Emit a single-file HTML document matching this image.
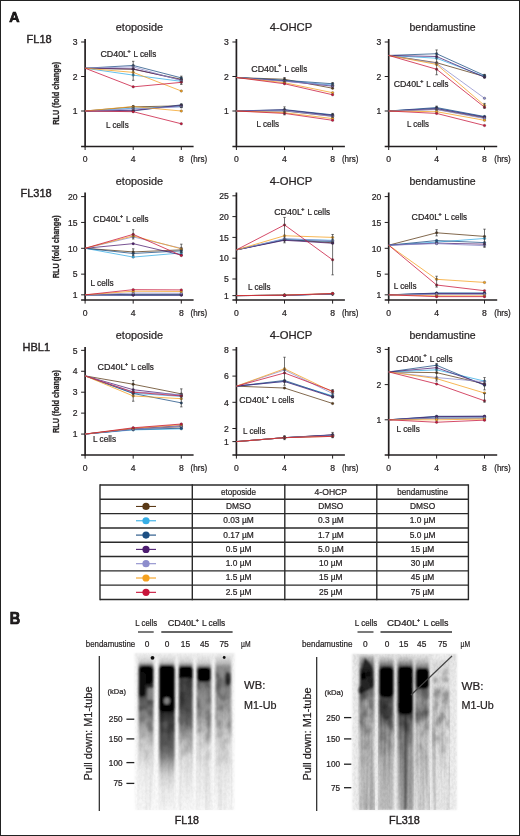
<!DOCTYPE html>
<html><head><meta charset="utf-8"><style>
html,body{margin:0;padding:0;background:#fff;}
body{width:520px;height:836px;overflow:hidden;}
svg{display:block;}
text{font-family:"Liberation Sans", sans-serif;fill:#231f20;stroke:#231f20;stroke-width:0.22px;}
</style></head><body>
<svg width="520" height="836" viewBox="0 0 520 836">
<rect x="0" y="0" width="520" height="836" fill="#fff"/>
<text x="26.60" y="43.30" font-size="11" style="stroke-width:0.4px">FL18</text>
<text transform="translate(58.6 93.2) rotate(-90)" font-size="9" text-anchor="middle" textLength="63" lengthAdjust="spacingAndGlyphs" font-weight="bold" fill="#2a2a2a" style="stroke:#2a2a2a;stroke-width:0.3px">RLU (fold change)</text>
<text x="115.80" y="31.40" font-size="11" textLength="47.3" lengthAdjust="spacingAndGlyphs">etoposide</text>
<line x1="85.10" y1="39.00" x2="85.10" y2="147.20" stroke="#231f20" stroke-width="1.7"/>
<line x1="81.10" y1="146.40" x2="193.60" y2="146.40" stroke="#231f20" stroke-width="1.5"/>
<line x1="81.10" y1="111.00" x2="85.10" y2="111.00" stroke="#231f20" stroke-width="1"/>
<text x="77.60" y="114.20" font-size="8.6" text-anchor="end">1</text>
<line x1="81.10" y1="76.50" x2="85.10" y2="76.50" stroke="#231f20" stroke-width="1"/>
<text x="77.60" y="79.70" font-size="8.6" text-anchor="end">2</text>
<line x1="81.10" y1="42.00" x2="85.10" y2="42.00" stroke="#231f20" stroke-width="1"/>
<text x="77.60" y="45.20" font-size="8.6" text-anchor="end">3</text>
<line x1="85.10" y1="146.40" x2="85.10" y2="150.00" stroke="#231f20" stroke-width="1"/>
<text x="85.10" y="162.40" font-size="8.6" text-anchor="middle">0</text>
<line x1="133.20" y1="146.40" x2="133.20" y2="150.00" stroke="#231f20" stroke-width="1"/>
<text x="133.20" y="162.40" font-size="8.6" text-anchor="middle">4</text>
<line x1="181.30" y1="146.40" x2="181.30" y2="150.00" stroke="#231f20" stroke-width="1"/>
<text x="181.30" y="162.40" font-size="8.6" text-anchor="middle">8</text>
<text x="190.60" y="162.20" font-size="8.4" textLength="16.6" lengthAdjust="spacingAndGlyphs">(hrs)</text>
<polyline points="85.10,68.22 133.20,69.25 181.30,79.26" fill="none" stroke="#5b3a17" stroke-width="0.85" stroke-opacity="0.9"/>
<polyline points="85.10,68.22 133.20,75.12 181.30,81.33" fill="none" stroke="#36aee6" stroke-width="0.85" stroke-opacity="0.9"/>
<polyline points="85.10,68.22 133.20,65.46 181.30,77.88" fill="none" stroke="#1d4f83" stroke-width="0.85" stroke-opacity="0.9"/>
<polyline points="85.10,68.22 133.20,68.91 181.30,79.95" fill="none" stroke="#4d1d70" stroke-width="0.85" stroke-opacity="0.9"/>
<polyline points="85.10,68.22 133.20,66.84 181.30,80.64" fill="none" stroke="#8d8dcc" stroke-width="0.85" stroke-opacity="0.9"/>
<polyline points="85.10,68.22 133.20,72.36 181.30,90.99" fill="none" stroke="#f5a11f" stroke-width="0.85" stroke-opacity="0.9"/>
<polyline points="85.10,68.22 133.20,86.85 181.30,82.36" fill="none" stroke="#c8143a" stroke-width="0.85" stroke-opacity="0.9"/>
<circle cx="133.20" cy="69.25" r="1.25" fill="#5b3a17" stroke="#333" stroke-width="0.3"/>
<circle cx="181.30" cy="79.26" r="1.25" fill="#5b3a17" stroke="#333" stroke-width="0.3"/>
<circle cx="133.20" cy="75.12" r="1.25" fill="#36aee6" stroke="#333" stroke-width="0.3"/>
<circle cx="181.30" cy="81.33" r="1.25" fill="#36aee6" stroke="#333" stroke-width="0.3"/>
<circle cx="133.20" cy="65.46" r="1.25" fill="#1d4f83" stroke="#333" stroke-width="0.3"/>
<circle cx="181.30" cy="77.88" r="1.25" fill="#1d4f83" stroke="#333" stroke-width="0.3"/>
<circle cx="133.20" cy="68.91" r="1.25" fill="#4d1d70" stroke="#333" stroke-width="0.3"/>
<circle cx="181.30" cy="79.95" r="1.25" fill="#4d1d70" stroke="#333" stroke-width="0.3"/>
<circle cx="133.20" cy="66.84" r="1.25" fill="#8d8dcc" stroke="#333" stroke-width="0.3"/>
<circle cx="181.30" cy="80.64" r="1.25" fill="#8d8dcc" stroke="#333" stroke-width="0.3"/>
<circle cx="133.20" cy="72.36" r="1.25" fill="#f5a11f" stroke="#333" stroke-width="0.3"/>
<circle cx="181.30" cy="90.99" r="1.25" fill="#f5a11f" stroke="#333" stroke-width="0.3"/>
<circle cx="133.20" cy="86.85" r="1.25" fill="#c8143a" stroke="#333" stroke-width="0.3"/>
<circle cx="181.30" cy="82.36" r="1.25" fill="#c8143a" stroke="#333" stroke-width="0.3"/>
<polyline points="85.10,111.00 133.20,106.86 181.30,105.83" fill="none" stroke="#5b3a17" stroke-width="0.85" stroke-opacity="0.9"/>
<polyline points="85.10,111.00 133.20,108.24 181.30,106.52" fill="none" stroke="#36aee6" stroke-width="0.85" stroke-opacity="0.9"/>
<polyline points="85.10,111.00 133.20,111.00 181.30,104.79" fill="none" stroke="#1d4f83" stroke-width="0.85" stroke-opacity="0.9"/>
<polyline points="85.10,111.00 133.20,110.31 181.30,105.48" fill="none" stroke="#4d1d70" stroke-width="0.85" stroke-opacity="0.9"/>
<polyline points="85.10,111.00 133.20,108.93 181.30,106.86" fill="none" stroke="#8d8dcc" stroke-width="0.85" stroke-opacity="0.9"/>
<polyline points="85.10,111.00 133.20,106.52 181.30,111.00" fill="none" stroke="#f5a11f" stroke-width="0.85" stroke-opacity="0.9"/>
<polyline points="85.10,111.00 133.20,111.69 181.30,123.77" fill="none" stroke="#c8143a" stroke-width="0.85" stroke-opacity="0.9"/>
<circle cx="133.20" cy="106.86" r="1.25" fill="#5b3a17" stroke="#333" stroke-width="0.3"/>
<circle cx="181.30" cy="105.83" r="1.25" fill="#5b3a17" stroke="#333" stroke-width="0.3"/>
<circle cx="133.20" cy="108.24" r="1.25" fill="#36aee6" stroke="#333" stroke-width="0.3"/>
<circle cx="181.30" cy="106.52" r="1.25" fill="#36aee6" stroke="#333" stroke-width="0.3"/>
<circle cx="133.20" cy="111.00" r="1.25" fill="#1d4f83" stroke="#333" stroke-width="0.3"/>
<circle cx="181.30" cy="104.79" r="1.25" fill="#1d4f83" stroke="#333" stroke-width="0.3"/>
<circle cx="133.20" cy="110.31" r="1.25" fill="#4d1d70" stroke="#333" stroke-width="0.3"/>
<circle cx="181.30" cy="105.48" r="1.25" fill="#4d1d70" stroke="#333" stroke-width="0.3"/>
<circle cx="133.20" cy="108.93" r="1.25" fill="#8d8dcc" stroke="#333" stroke-width="0.3"/>
<circle cx="181.30" cy="106.86" r="1.25" fill="#8d8dcc" stroke="#333" stroke-width="0.3"/>
<circle cx="133.20" cy="106.52" r="1.25" fill="#f5a11f" stroke="#333" stroke-width="0.3"/>
<circle cx="181.30" cy="111.00" r="1.25" fill="#f5a11f" stroke="#333" stroke-width="0.3"/>
<circle cx="133.20" cy="111.69" r="1.25" fill="#c8143a" stroke="#333" stroke-width="0.3"/>
<circle cx="181.30" cy="123.77" r="1.25" fill="#c8143a" stroke="#333" stroke-width="0.3"/>
<line x1="133.20" y1="61.32" x2="133.20" y2="80.30" stroke="#333" stroke-width="0.7"/>
<line x1="132.00" y1="61.32" x2="134.40" y2="61.32" stroke="#333" stroke-width="0.7"/>
<line x1="132.00" y1="80.30" x2="134.40" y2="80.30" stroke="#333" stroke-width="0.7"/>
<line x1="181.30" y1="76.16" x2="181.30" y2="84.44" stroke="#333" stroke-width="0.7"/>
<line x1="180.10" y1="76.16" x2="182.50" y2="76.16" stroke="#333" stroke-width="0.7"/>
<line x1="180.10" y1="84.44" x2="182.50" y2="84.44" stroke="#333" stroke-width="0.7"/>
<line x1="133.20" y1="105.83" x2="133.20" y2="110.31" stroke="#333" stroke-width="0.7"/>
<line x1="132.00" y1="105.83" x2="134.40" y2="105.83" stroke="#333" stroke-width="0.7"/>
<line x1="132.00" y1="110.31" x2="134.40" y2="110.31" stroke="#333" stroke-width="0.7"/>
<line x1="181.30" y1="104.10" x2="181.30" y2="107.55" stroke="#333" stroke-width="0.7"/>
<line x1="180.10" y1="104.10" x2="182.50" y2="104.10" stroke="#333" stroke-width="0.7"/>
<line x1="180.10" y1="107.55" x2="182.50" y2="107.55" stroke="#333" stroke-width="0.7"/>
<text x="100.40" y="57.20" font-size="8.5" textLength="27.68" lengthAdjust="spacingAndGlyphs">CD40L</text>
<text x="129.00" y="53.00" font-size="5.27" text-anchor="middle" font-weight="bold">+</text>
<text x="133.60" y="57.20" font-size="8.5" textLength="22.6" lengthAdjust="spacingAndGlyphs">L cells</text>
<text x="106.10" y="128.40" font-size="8.6" textLength="22.6" lengthAdjust="spacingAndGlyphs">L cells</text>
<text x="269.70" y="31.40" font-size="11" textLength="42.6" lengthAdjust="spacingAndGlyphs">4-OHCP</text>
<line x1="236.40" y1="39.00" x2="236.40" y2="147.20" stroke="#231f20" stroke-width="1.7"/>
<line x1="232.40" y1="146.40" x2="344.90" y2="146.40" stroke="#231f20" stroke-width="1.5"/>
<line x1="232.40" y1="111.00" x2="236.40" y2="111.00" stroke="#231f20" stroke-width="1"/>
<text x="228.90" y="114.20" font-size="8.6" text-anchor="end">1</text>
<line x1="232.40" y1="76.50" x2="236.40" y2="76.50" stroke="#231f20" stroke-width="1"/>
<text x="228.90" y="79.70" font-size="8.6" text-anchor="end">2</text>
<line x1="232.40" y1="42.00" x2="236.40" y2="42.00" stroke="#231f20" stroke-width="1"/>
<text x="228.90" y="45.20" font-size="8.6" text-anchor="end">3</text>
<line x1="236.40" y1="146.40" x2="236.40" y2="150.00" stroke="#231f20" stroke-width="1"/>
<text x="236.40" y="162.40" font-size="8.6" text-anchor="middle">0</text>
<line x1="284.50" y1="146.40" x2="284.50" y2="150.00" stroke="#231f20" stroke-width="1"/>
<text x="284.50" y="162.40" font-size="8.6" text-anchor="middle">4</text>
<line x1="332.60" y1="146.40" x2="332.60" y2="150.00" stroke="#231f20" stroke-width="1"/>
<text x="332.60" y="162.40" font-size="8.6" text-anchor="middle">8</text>
<text x="341.90" y="162.20" font-size="8.4" textLength="16.6" lengthAdjust="spacingAndGlyphs">(hrs)</text>
<polyline points="236.40,77.53 284.50,79.26 332.60,88.23" fill="none" stroke="#5b3a17" stroke-width="0.85" stroke-opacity="0.9"/>
<polyline points="236.40,77.53 284.50,80.64 332.60,85.12" fill="none" stroke="#36aee6" stroke-width="0.85" stroke-opacity="0.9"/>
<polyline points="236.40,77.53 284.50,80.30 332.60,83.75" fill="none" stroke="#1d4f83" stroke-width="0.85" stroke-opacity="0.9"/>
<polyline points="236.40,77.53 284.50,80.98 332.60,86.16" fill="none" stroke="#4d1d70" stroke-width="0.85" stroke-opacity="0.9"/>
<polyline points="236.40,77.53 284.50,81.33 332.60,85.47" fill="none" stroke="#8d8dcc" stroke-width="0.85" stroke-opacity="0.9"/>
<polyline points="236.40,77.53 284.50,82.71 332.60,92.72" fill="none" stroke="#f5a11f" stroke-width="0.85" stroke-opacity="0.9"/>
<polyline points="236.40,77.53 284.50,83.75 332.60,94.78" fill="none" stroke="#c8143a" stroke-width="0.85" stroke-opacity="0.9"/>
<circle cx="284.50" cy="79.26" r="1.25" fill="#5b3a17" stroke="#333" stroke-width="0.3"/>
<circle cx="332.60" cy="88.23" r="1.25" fill="#5b3a17" stroke="#333" stroke-width="0.3"/>
<circle cx="284.50" cy="80.64" r="1.25" fill="#36aee6" stroke="#333" stroke-width="0.3"/>
<circle cx="332.60" cy="85.12" r="1.25" fill="#36aee6" stroke="#333" stroke-width="0.3"/>
<circle cx="284.50" cy="80.30" r="1.25" fill="#1d4f83" stroke="#333" stroke-width="0.3"/>
<circle cx="332.60" cy="83.75" r="1.25" fill="#1d4f83" stroke="#333" stroke-width="0.3"/>
<circle cx="284.50" cy="80.98" r="1.25" fill="#4d1d70" stroke="#333" stroke-width="0.3"/>
<circle cx="332.60" cy="86.16" r="1.25" fill="#4d1d70" stroke="#333" stroke-width="0.3"/>
<circle cx="284.50" cy="81.33" r="1.25" fill="#8d8dcc" stroke="#333" stroke-width="0.3"/>
<circle cx="332.60" cy="85.47" r="1.25" fill="#8d8dcc" stroke="#333" stroke-width="0.3"/>
<circle cx="284.50" cy="82.71" r="1.25" fill="#f5a11f" stroke="#333" stroke-width="0.3"/>
<circle cx="332.60" cy="92.72" r="1.25" fill="#f5a11f" stroke="#333" stroke-width="0.3"/>
<circle cx="284.50" cy="83.75" r="1.25" fill="#c8143a" stroke="#333" stroke-width="0.3"/>
<circle cx="332.60" cy="94.78" r="1.25" fill="#c8143a" stroke="#333" stroke-width="0.3"/>
<polyline points="236.40,111.00 284.50,111.00 332.60,116.17" fill="none" stroke="#5b3a17" stroke-width="0.85" stroke-opacity="0.9"/>
<polyline points="236.40,111.00 284.50,110.31 332.60,115.14" fill="none" stroke="#36aee6" stroke-width="0.85" stroke-opacity="0.9"/>
<polyline points="236.40,111.00 284.50,109.62 332.60,114.80" fill="none" stroke="#1d4f83" stroke-width="0.85" stroke-opacity="0.9"/>
<polyline points="236.40,111.00 284.50,109.97 332.60,115.48" fill="none" stroke="#4d1d70" stroke-width="0.85" stroke-opacity="0.9"/>
<polyline points="236.40,111.00 284.50,110.66 332.60,116.52" fill="none" stroke="#8d8dcc" stroke-width="0.85" stroke-opacity="0.9"/>
<polyline points="236.40,111.00 284.50,112.72 332.60,118.59" fill="none" stroke="#f5a11f" stroke-width="0.85" stroke-opacity="0.9"/>
<polyline points="236.40,111.00 284.50,113.41 332.60,120.31" fill="none" stroke="#c8143a" stroke-width="0.85" stroke-opacity="0.9"/>
<circle cx="284.50" cy="111.00" r="1.25" fill="#5b3a17" stroke="#333" stroke-width="0.3"/>
<circle cx="332.60" cy="116.17" r="1.25" fill="#5b3a17" stroke="#333" stroke-width="0.3"/>
<circle cx="284.50" cy="110.31" r="1.25" fill="#36aee6" stroke="#333" stroke-width="0.3"/>
<circle cx="332.60" cy="115.14" r="1.25" fill="#36aee6" stroke="#333" stroke-width="0.3"/>
<circle cx="284.50" cy="109.62" r="1.25" fill="#1d4f83" stroke="#333" stroke-width="0.3"/>
<circle cx="332.60" cy="114.80" r="1.25" fill="#1d4f83" stroke="#333" stroke-width="0.3"/>
<circle cx="284.50" cy="109.97" r="1.25" fill="#4d1d70" stroke="#333" stroke-width="0.3"/>
<circle cx="332.60" cy="115.48" r="1.25" fill="#4d1d70" stroke="#333" stroke-width="0.3"/>
<circle cx="284.50" cy="110.66" r="1.25" fill="#8d8dcc" stroke="#333" stroke-width="0.3"/>
<circle cx="332.60" cy="116.52" r="1.25" fill="#8d8dcc" stroke="#333" stroke-width="0.3"/>
<circle cx="284.50" cy="112.72" r="1.25" fill="#f5a11f" stroke="#333" stroke-width="0.3"/>
<circle cx="332.60" cy="118.59" r="1.25" fill="#f5a11f" stroke="#333" stroke-width="0.3"/>
<circle cx="284.50" cy="113.41" r="1.25" fill="#c8143a" stroke="#333" stroke-width="0.3"/>
<circle cx="332.60" cy="120.31" r="1.25" fill="#c8143a" stroke="#333" stroke-width="0.3"/>
<line x1="284.50" y1="77.53" x2="284.50" y2="81.67" stroke="#333" stroke-width="0.7"/>
<line x1="283.30" y1="77.53" x2="285.70" y2="77.53" stroke="#333" stroke-width="0.7"/>
<line x1="283.30" y1="81.67" x2="285.70" y2="81.67" stroke="#333" stroke-width="0.7"/>
<line x1="332.60" y1="82.71" x2="332.60" y2="85.47" stroke="#333" stroke-width="0.7"/>
<line x1="331.40" y1="82.71" x2="333.80" y2="82.71" stroke="#333" stroke-width="0.7"/>
<line x1="331.40" y1="85.47" x2="333.80" y2="85.47" stroke="#333" stroke-width="0.7"/>
<line x1="284.50" y1="106.86" x2="284.50" y2="114.80" stroke="#333" stroke-width="0.7"/>
<line x1="283.30" y1="106.86" x2="285.70" y2="106.86" stroke="#333" stroke-width="0.7"/>
<line x1="283.30" y1="114.80" x2="285.70" y2="114.80" stroke="#333" stroke-width="0.7"/>
<line x1="332.60" y1="113.41" x2="332.60" y2="117.21" stroke="#333" stroke-width="0.7"/>
<line x1="331.40" y1="113.41" x2="333.80" y2="113.41" stroke="#333" stroke-width="0.7"/>
<line x1="331.40" y1="117.21" x2="333.80" y2="117.21" stroke="#333" stroke-width="0.7"/>
<text x="251.20" y="71.50" font-size="8.5" textLength="27.78" lengthAdjust="spacingAndGlyphs">CD40L</text>
<text x="279.90" y="67.30" font-size="5.27" text-anchor="middle" font-weight="bold">+</text>
<text x="284.52" y="71.50" font-size="8.5" textLength="22.68" lengthAdjust="spacingAndGlyphs">L cells</text>
<text x="256.50" y="127.00" font-size="8.6" textLength="22.5" lengthAdjust="spacingAndGlyphs">L cells</text>
<text x="409.50" y="31.40" font-size="11" textLength="66.1" lengthAdjust="spacingAndGlyphs">bendamustine</text>
<line x1="388.70" y1="39.00" x2="388.70" y2="147.20" stroke="#231f20" stroke-width="1.7"/>
<line x1="384.70" y1="146.40" x2="497.20" y2="146.40" stroke="#231f20" stroke-width="1.5"/>
<line x1="384.70" y1="111.00" x2="388.70" y2="111.00" stroke="#231f20" stroke-width="1"/>
<text x="381.20" y="114.20" font-size="8.6" text-anchor="end">1</text>
<line x1="384.70" y1="76.50" x2="388.70" y2="76.50" stroke="#231f20" stroke-width="1"/>
<text x="381.20" y="79.70" font-size="8.6" text-anchor="end">2</text>
<line x1="384.70" y1="42.00" x2="388.70" y2="42.00" stroke="#231f20" stroke-width="1"/>
<text x="381.20" y="45.20" font-size="8.6" text-anchor="end">3</text>
<line x1="388.70" y1="146.40" x2="388.70" y2="150.00" stroke="#231f20" stroke-width="1"/>
<text x="388.70" y="162.40" font-size="8.6" text-anchor="middle">0</text>
<line x1="436.60" y1="146.40" x2="436.60" y2="150.00" stroke="#231f20" stroke-width="1"/>
<text x="436.60" y="162.40" font-size="8.6" text-anchor="middle">4</text>
<line x1="484.50" y1="146.40" x2="484.50" y2="150.00" stroke="#231f20" stroke-width="1"/>
<text x="484.50" y="162.40" font-size="8.6" text-anchor="middle">8</text>
<text x="494.20" y="162.20" font-size="8.4" textLength="16.6" lengthAdjust="spacingAndGlyphs">(hrs)</text>
<polyline points="388.70,55.45 436.60,62.70 484.50,76.50" fill="none" stroke="#5b3a17" stroke-width="0.85" stroke-opacity="0.9"/>
<polyline points="388.70,55.45 436.60,58.22 484.50,76.50" fill="none" stroke="#36aee6" stroke-width="0.85" stroke-opacity="0.9"/>
<polyline points="388.70,55.45 436.60,53.73 484.50,75.47" fill="none" stroke="#1d4f83" stroke-width="0.85" stroke-opacity="0.9"/>
<polyline points="388.70,55.45 436.60,56.49 484.50,77.19" fill="none" stroke="#4d1d70" stroke-width="0.85" stroke-opacity="0.9"/>
<polyline points="388.70,55.45 436.60,63.39 484.50,98.23" fill="none" stroke="#8d8dcc" stroke-width="0.85" stroke-opacity="0.9"/>
<polyline points="388.70,55.45 436.60,64.42 484.50,105.48" fill="none" stroke="#f5a11f" stroke-width="0.85" stroke-opacity="0.9"/>
<polyline points="388.70,55.45 436.60,69.25 484.50,107.20" fill="none" stroke="#c8143a" stroke-width="0.85" stroke-opacity="0.9"/>
<circle cx="436.60" cy="62.70" r="1.25" fill="#5b3a17" stroke="#333" stroke-width="0.3"/>
<circle cx="484.50" cy="76.50" r="1.25" fill="#5b3a17" stroke="#333" stroke-width="0.3"/>
<circle cx="436.60" cy="58.22" r="1.25" fill="#36aee6" stroke="#333" stroke-width="0.3"/>
<circle cx="484.50" cy="76.50" r="1.25" fill="#36aee6" stroke="#333" stroke-width="0.3"/>
<circle cx="436.60" cy="53.73" r="1.25" fill="#1d4f83" stroke="#333" stroke-width="0.3"/>
<circle cx="484.50" cy="75.47" r="1.25" fill="#1d4f83" stroke="#333" stroke-width="0.3"/>
<circle cx="436.60" cy="56.49" r="1.25" fill="#4d1d70" stroke="#333" stroke-width="0.3"/>
<circle cx="484.50" cy="77.19" r="1.25" fill="#4d1d70" stroke="#333" stroke-width="0.3"/>
<circle cx="436.60" cy="63.39" r="1.25" fill="#8d8dcc" stroke="#333" stroke-width="0.3"/>
<circle cx="484.50" cy="98.23" r="1.25" fill="#8d8dcc" stroke="#333" stroke-width="0.3"/>
<circle cx="436.60" cy="64.42" r="1.25" fill="#f5a11f" stroke="#333" stroke-width="0.3"/>
<circle cx="484.50" cy="105.48" r="1.25" fill="#f5a11f" stroke="#333" stroke-width="0.3"/>
<circle cx="436.60" cy="69.25" r="1.25" fill="#c8143a" stroke="#333" stroke-width="0.3"/>
<circle cx="484.50" cy="107.20" r="1.25" fill="#c8143a" stroke="#333" stroke-width="0.3"/>
<polyline points="388.70,111.00 436.60,109.28 484.50,117.90" fill="none" stroke="#5b3a17" stroke-width="0.85" stroke-opacity="0.9"/>
<polyline points="388.70,111.00 436.60,108.24 484.50,116.87" fill="none" stroke="#36aee6" stroke-width="0.85" stroke-opacity="0.9"/>
<polyline points="388.70,111.00 436.60,107.55 484.50,116.52" fill="none" stroke="#1d4f83" stroke-width="0.85" stroke-opacity="0.9"/>
<polyline points="388.70,111.00 436.60,108.59 484.50,117.21" fill="none" stroke="#4d1d70" stroke-width="0.85" stroke-opacity="0.9"/>
<polyline points="388.70,111.00 436.60,109.62 484.50,118.59" fill="none" stroke="#8d8dcc" stroke-width="0.85" stroke-opacity="0.9"/>
<polyline points="388.70,111.00 436.60,111.69 484.50,120.31" fill="none" stroke="#f5a11f" stroke-width="0.85" stroke-opacity="0.9"/>
<polyline points="388.70,111.00 436.60,113.41 484.50,125.49" fill="none" stroke="#c8143a" stroke-width="0.85" stroke-opacity="0.9"/>
<circle cx="436.60" cy="109.28" r="1.25" fill="#5b3a17" stroke="#333" stroke-width="0.3"/>
<circle cx="484.50" cy="117.90" r="1.25" fill="#5b3a17" stroke="#333" stroke-width="0.3"/>
<circle cx="436.60" cy="108.24" r="1.25" fill="#36aee6" stroke="#333" stroke-width="0.3"/>
<circle cx="484.50" cy="116.87" r="1.25" fill="#36aee6" stroke="#333" stroke-width="0.3"/>
<circle cx="436.60" cy="107.55" r="1.25" fill="#1d4f83" stroke="#333" stroke-width="0.3"/>
<circle cx="484.50" cy="116.52" r="1.25" fill="#1d4f83" stroke="#333" stroke-width="0.3"/>
<circle cx="436.60" cy="108.59" r="1.25" fill="#4d1d70" stroke="#333" stroke-width="0.3"/>
<circle cx="484.50" cy="117.21" r="1.25" fill="#4d1d70" stroke="#333" stroke-width="0.3"/>
<circle cx="436.60" cy="109.62" r="1.25" fill="#8d8dcc" stroke="#333" stroke-width="0.3"/>
<circle cx="484.50" cy="118.59" r="1.25" fill="#8d8dcc" stroke="#333" stroke-width="0.3"/>
<circle cx="436.60" cy="111.69" r="1.25" fill="#f5a11f" stroke="#333" stroke-width="0.3"/>
<circle cx="484.50" cy="120.31" r="1.25" fill="#f5a11f" stroke="#333" stroke-width="0.3"/>
<circle cx="436.60" cy="113.41" r="1.25" fill="#c8143a" stroke="#333" stroke-width="0.3"/>
<circle cx="484.50" cy="125.49" r="1.25" fill="#c8143a" stroke="#333" stroke-width="0.3"/>
<line x1="436.60" y1="49.94" x2="436.60" y2="74.78" stroke="#333" stroke-width="0.7"/>
<line x1="435.40" y1="49.94" x2="437.80" y2="49.94" stroke="#333" stroke-width="0.7"/>
<line x1="435.40" y1="74.78" x2="437.80" y2="74.78" stroke="#333" stroke-width="0.7"/>
<line x1="484.50" y1="74.43" x2="484.50" y2="77.88" stroke="#333" stroke-width="0.7"/>
<line x1="483.30" y1="74.43" x2="485.70" y2="74.43" stroke="#333" stroke-width="0.7"/>
<line x1="483.30" y1="77.88" x2="485.70" y2="77.88" stroke="#333" stroke-width="0.7"/>
<line x1="484.50" y1="103.41" x2="484.50" y2="108.24" stroke="#333" stroke-width="0.7"/>
<line x1="483.30" y1="103.41" x2="485.70" y2="103.41" stroke="#333" stroke-width="0.7"/>
<line x1="483.30" y1="108.24" x2="485.70" y2="108.24" stroke="#333" stroke-width="0.7"/>
<line x1="436.60" y1="106.17" x2="436.60" y2="109.62" stroke="#333" stroke-width="0.7"/>
<line x1="435.40" y1="106.17" x2="437.80" y2="106.17" stroke="#333" stroke-width="0.7"/>
<line x1="435.40" y1="109.62" x2="437.80" y2="109.62" stroke="#333" stroke-width="0.7"/>
<text x="393.70" y="87.00" font-size="8.5" textLength="27.23" lengthAdjust="spacingAndGlyphs">CD40L</text>
<text x="421.84" y="82.80" font-size="5.27" text-anchor="middle" font-weight="bold">+</text>
<text x="426.37" y="87.00" font-size="8.5" textLength="22.23" lengthAdjust="spacingAndGlyphs">L cells</text>
<text x="407.00" y="127.00" font-size="8.6" textLength="22" lengthAdjust="spacingAndGlyphs">L cells</text>
<text x="20.50" y="197.40" font-size="11" style="stroke-width:0.4px">FL318</text>
<text transform="translate(58.6 246.8) rotate(-90)" font-size="9" text-anchor="middle" textLength="63" lengthAdjust="spacingAndGlyphs" font-weight="bold" fill="#2a2a2a" style="stroke:#2a2a2a;stroke-width:0.3px">RLU (fold change)</text>
<text x="115.80" y="185.40" font-size="11" textLength="47.3" lengthAdjust="spacingAndGlyphs">etoposide</text>
<line x1="85.10" y1="192.50" x2="85.10" y2="300.80" stroke="#231f20" stroke-width="1.7"/>
<line x1="81.10" y1="300.00" x2="193.60" y2="300.00" stroke="#231f20" stroke-width="1.5"/>
<line x1="81.10" y1="294.83" x2="85.10" y2="294.83" stroke="#231f20" stroke-width="1"/>
<text x="77.60" y="298.03" font-size="8.6" text-anchor="end">1</text>
<line x1="81.10" y1="274.15" x2="85.10" y2="274.15" stroke="#231f20" stroke-width="1"/>
<text x="77.60" y="277.35" font-size="8.6" text-anchor="end">5</text>
<line x1="81.10" y1="248.30" x2="85.10" y2="248.30" stroke="#231f20" stroke-width="1"/>
<text x="77.60" y="251.50" font-size="8.6" text-anchor="end">10</text>
<line x1="81.10" y1="222.45" x2="85.10" y2="222.45" stroke="#231f20" stroke-width="1"/>
<text x="77.60" y="225.65" font-size="8.6" text-anchor="end">15</text>
<line x1="81.10" y1="196.60" x2="85.10" y2="196.60" stroke="#231f20" stroke-width="1"/>
<text x="77.60" y="199.80" font-size="8.6" text-anchor="end">20</text>
<line x1="85.10" y1="300.00" x2="85.10" y2="303.60" stroke="#231f20" stroke-width="1"/>
<text x="85.10" y="316.00" font-size="8.6" text-anchor="middle">0</text>
<line x1="133.20" y1="300.00" x2="133.20" y2="303.60" stroke="#231f20" stroke-width="1"/>
<text x="133.20" y="316.00" font-size="8.6" text-anchor="middle">4</text>
<line x1="181.30" y1="300.00" x2="181.30" y2="303.60" stroke="#231f20" stroke-width="1"/>
<text x="181.30" y="316.00" font-size="8.6" text-anchor="middle">8</text>
<text x="190.60" y="315.80" font-size="8.4" textLength="16.6" lengthAdjust="spacingAndGlyphs">(hrs)</text>
<polyline points="85.10,248.30 133.20,251.92 181.30,249.85" fill="none" stroke="#5b3a17" stroke-width="0.85" stroke-opacity="0.9"/>
<polyline points="85.10,248.30 133.20,257.09 181.30,252.95" fill="none" stroke="#36aee6" stroke-width="0.85" stroke-opacity="0.9"/>
<polyline points="85.10,248.30 133.20,253.47 181.30,250.88" fill="none" stroke="#1d4f83" stroke-width="0.85" stroke-opacity="0.9"/>
<polyline points="85.10,248.30 133.20,243.65 181.30,255.02" fill="none" stroke="#4d1d70" stroke-width="0.85" stroke-opacity="0.9"/>
<polyline points="85.10,248.30 133.20,236.93 181.30,248.30" fill="none" stroke="#8d8dcc" stroke-width="0.85" stroke-opacity="0.9"/>
<polyline points="85.10,248.30 133.20,235.89 181.30,248.82" fill="none" stroke="#f5a11f" stroke-width="0.85" stroke-opacity="0.9"/>
<polyline points="85.10,248.30 133.20,234.34 181.30,255.54" fill="none" stroke="#c8143a" stroke-width="0.85" stroke-opacity="0.9"/>
<circle cx="133.20" cy="251.92" r="1.25" fill="#5b3a17" stroke="#333" stroke-width="0.3"/>
<circle cx="181.30" cy="249.85" r="1.25" fill="#5b3a17" stroke="#333" stroke-width="0.3"/>
<circle cx="133.20" cy="257.09" r="1.25" fill="#36aee6" stroke="#333" stroke-width="0.3"/>
<circle cx="181.30" cy="252.95" r="1.25" fill="#36aee6" stroke="#333" stroke-width="0.3"/>
<circle cx="133.20" cy="253.47" r="1.25" fill="#1d4f83" stroke="#333" stroke-width="0.3"/>
<circle cx="181.30" cy="250.88" r="1.25" fill="#1d4f83" stroke="#333" stroke-width="0.3"/>
<circle cx="133.20" cy="243.65" r="1.25" fill="#4d1d70" stroke="#333" stroke-width="0.3"/>
<circle cx="181.30" cy="255.02" r="1.25" fill="#4d1d70" stroke="#333" stroke-width="0.3"/>
<circle cx="133.20" cy="236.93" r="1.25" fill="#8d8dcc" stroke="#333" stroke-width="0.3"/>
<circle cx="181.30" cy="248.30" r="1.25" fill="#8d8dcc" stroke="#333" stroke-width="0.3"/>
<circle cx="133.20" cy="235.89" r="1.25" fill="#f5a11f" stroke="#333" stroke-width="0.3"/>
<circle cx="181.30" cy="248.82" r="1.25" fill="#f5a11f" stroke="#333" stroke-width="0.3"/>
<circle cx="133.20" cy="234.34" r="1.25" fill="#c8143a" stroke="#333" stroke-width="0.3"/>
<circle cx="181.30" cy="255.54" r="1.25" fill="#c8143a" stroke="#333" stroke-width="0.3"/>
<polyline points="85.10,294.83 133.20,294.31 181.30,294.31" fill="none" stroke="#5b3a17" stroke-width="0.85" stroke-opacity="0.9"/>
<polyline points="85.10,294.83 133.20,294.83 181.30,294.83" fill="none" stroke="#36aee6" stroke-width="0.85" stroke-opacity="0.9"/>
<polyline points="85.10,294.83 133.20,295.09 181.30,295.09" fill="none" stroke="#1d4f83" stroke-width="0.85" stroke-opacity="0.9"/>
<polyline points="85.10,294.83 133.20,295.09 181.30,295.09" fill="none" stroke="#4d1d70" stroke-width="0.85" stroke-opacity="0.9"/>
<polyline points="85.10,294.83 133.20,293.02 181.30,293.28" fill="none" stroke="#8d8dcc" stroke-width="0.85" stroke-opacity="0.9"/>
<polyline points="85.10,294.83 133.20,291.21 181.30,291.47" fill="none" stroke="#f5a11f" stroke-width="0.85" stroke-opacity="0.9"/>
<polyline points="85.10,294.83 133.20,289.66 181.30,289.92" fill="none" stroke="#c8143a" stroke-width="0.85" stroke-opacity="0.9"/>
<circle cx="133.20" cy="294.31" r="1.25" fill="#5b3a17" stroke="#333" stroke-width="0.3"/>
<circle cx="181.30" cy="294.31" r="1.25" fill="#5b3a17" stroke="#333" stroke-width="0.3"/>
<circle cx="133.20" cy="294.83" r="1.25" fill="#36aee6" stroke="#333" stroke-width="0.3"/>
<circle cx="181.30" cy="294.83" r="1.25" fill="#36aee6" stroke="#333" stroke-width="0.3"/>
<circle cx="133.20" cy="295.09" r="1.25" fill="#1d4f83" stroke="#333" stroke-width="0.3"/>
<circle cx="181.30" cy="295.09" r="1.25" fill="#1d4f83" stroke="#333" stroke-width="0.3"/>
<circle cx="133.20" cy="295.09" r="1.25" fill="#4d1d70" stroke="#333" stroke-width="0.3"/>
<circle cx="181.30" cy="295.09" r="1.25" fill="#4d1d70" stroke="#333" stroke-width="0.3"/>
<circle cx="133.20" cy="293.02" r="1.25" fill="#8d8dcc" stroke="#333" stroke-width="0.3"/>
<circle cx="181.30" cy="293.28" r="1.25" fill="#8d8dcc" stroke="#333" stroke-width="0.3"/>
<circle cx="133.20" cy="291.21" r="1.25" fill="#f5a11f" stroke="#333" stroke-width="0.3"/>
<circle cx="181.30" cy="291.47" r="1.25" fill="#f5a11f" stroke="#333" stroke-width="0.3"/>
<circle cx="133.20" cy="289.66" r="1.25" fill="#c8143a" stroke="#333" stroke-width="0.3"/>
<circle cx="181.30" cy="289.92" r="1.25" fill="#c8143a" stroke="#333" stroke-width="0.3"/>
<line x1="133.20" y1="229.69" x2="133.20" y2="238.99" stroke="#333" stroke-width="0.7"/>
<line x1="132.00" y1="229.69" x2="134.40" y2="229.69" stroke="#333" stroke-width="0.7"/>
<line x1="132.00" y1="238.99" x2="134.40" y2="238.99" stroke="#333" stroke-width="0.7"/>
<line x1="133.20" y1="248.82" x2="133.20" y2="255.54" stroke="#333" stroke-width="0.7"/>
<line x1="132.00" y1="248.82" x2="134.40" y2="248.82" stroke="#333" stroke-width="0.7"/>
<line x1="132.00" y1="255.54" x2="134.40" y2="255.54" stroke="#333" stroke-width="0.7"/>
<line x1="181.30" y1="244.16" x2="181.30" y2="252.44" stroke="#333" stroke-width="0.7"/>
<line x1="180.10" y1="244.16" x2="182.50" y2="244.16" stroke="#333" stroke-width="0.7"/>
<line x1="180.10" y1="252.44" x2="182.50" y2="252.44" stroke="#333" stroke-width="0.7"/>
<text x="93.00" y="222.00" font-size="8.5" textLength="27.53" lengthAdjust="spacingAndGlyphs">CD40L</text>
<text x="121.44" y="217.80" font-size="5.27" text-anchor="middle" font-weight="bold">+</text>
<text x="126.02" y="222.00" font-size="8.5" textLength="22.48" lengthAdjust="spacingAndGlyphs">L cells</text>
<text x="90.50" y="285.50" font-size="8.6" textLength="23.2" lengthAdjust="spacingAndGlyphs">L cells</text>
<text x="269.70" y="185.40" font-size="11" textLength="42.6" lengthAdjust="spacingAndGlyphs">4-OHCP</text>
<line x1="236.40" y1="192.50" x2="236.40" y2="300.80" stroke="#231f20" stroke-width="1.7"/>
<line x1="232.40" y1="300.00" x2="344.90" y2="300.00" stroke="#231f20" stroke-width="1.5"/>
<line x1="232.40" y1="295.64" x2="236.40" y2="295.64" stroke="#231f20" stroke-width="1"/>
<text x="228.90" y="298.84" font-size="8.6" text-anchor="end">1</text>
<line x1="232.40" y1="279.00" x2="236.40" y2="279.00" stroke="#231f20" stroke-width="1"/>
<text x="228.90" y="282.20" font-size="8.6" text-anchor="end">5</text>
<line x1="232.40" y1="258.20" x2="236.40" y2="258.20" stroke="#231f20" stroke-width="1"/>
<text x="228.90" y="261.40" font-size="8.6" text-anchor="end">10</text>
<line x1="232.40" y1="237.40" x2="236.40" y2="237.40" stroke="#231f20" stroke-width="1"/>
<text x="228.90" y="240.60" font-size="8.6" text-anchor="end">15</text>
<line x1="232.40" y1="216.60" x2="236.40" y2="216.60" stroke="#231f20" stroke-width="1"/>
<text x="228.90" y="219.80" font-size="8.6" text-anchor="end">20</text>
<line x1="232.40" y1="195.80" x2="236.40" y2="195.80" stroke="#231f20" stroke-width="1"/>
<text x="228.90" y="199.00" font-size="8.6" text-anchor="end">25</text>
<line x1="236.40" y1="300.00" x2="236.40" y2="303.60" stroke="#231f20" stroke-width="1"/>
<text x="236.40" y="316.00" font-size="8.6" text-anchor="middle">0</text>
<line x1="284.50" y1="300.00" x2="284.50" y2="303.60" stroke="#231f20" stroke-width="1"/>
<text x="284.50" y="316.00" font-size="8.6" text-anchor="middle">4</text>
<line x1="332.60" y1="300.00" x2="332.60" y2="303.60" stroke="#231f20" stroke-width="1"/>
<text x="332.60" y="316.00" font-size="8.6" text-anchor="middle">8</text>
<text x="341.90" y="315.80" font-size="8.4" textLength="16.6" lengthAdjust="spacingAndGlyphs">(hrs)</text>
<polyline points="236.40,249.88 284.50,239.48 332.60,242.81" fill="none" stroke="#5b3a17" stroke-width="0.85" stroke-opacity="0.9"/>
<polyline points="236.40,249.88 284.50,239.06 332.60,240.31" fill="none" stroke="#36aee6" stroke-width="0.85" stroke-opacity="0.9"/>
<polyline points="236.40,249.88 284.50,239.90 332.60,241.56" fill="none" stroke="#1d4f83" stroke-width="0.85" stroke-opacity="0.9"/>
<polyline points="236.40,249.88 284.50,240.31 332.60,243.22" fill="none" stroke="#4d1d70" stroke-width="0.85" stroke-opacity="0.9"/>
<polyline points="236.40,249.88 284.50,238.65 332.60,240.73" fill="none" stroke="#8d8dcc" stroke-width="0.85" stroke-opacity="0.9"/>
<polyline points="236.40,249.88 284.50,235.74 332.60,237.40" fill="none" stroke="#f5a11f" stroke-width="0.85" stroke-opacity="0.9"/>
<polyline points="236.40,249.88 284.50,224.92 332.60,259.86" fill="none" stroke="#c8143a" stroke-width="0.85" stroke-opacity="0.9"/>
<circle cx="284.50" cy="239.48" r="1.25" fill="#5b3a17" stroke="#333" stroke-width="0.3"/>
<circle cx="332.60" cy="242.81" r="1.25" fill="#5b3a17" stroke="#333" stroke-width="0.3"/>
<circle cx="284.50" cy="239.06" r="1.25" fill="#36aee6" stroke="#333" stroke-width="0.3"/>
<circle cx="332.60" cy="240.31" r="1.25" fill="#36aee6" stroke="#333" stroke-width="0.3"/>
<circle cx="284.50" cy="239.90" r="1.25" fill="#1d4f83" stroke="#333" stroke-width="0.3"/>
<circle cx="332.60" cy="241.56" r="1.25" fill="#1d4f83" stroke="#333" stroke-width="0.3"/>
<circle cx="284.50" cy="240.31" r="1.25" fill="#4d1d70" stroke="#333" stroke-width="0.3"/>
<circle cx="332.60" cy="243.22" r="1.25" fill="#4d1d70" stroke="#333" stroke-width="0.3"/>
<circle cx="284.50" cy="238.65" r="1.25" fill="#8d8dcc" stroke="#333" stroke-width="0.3"/>
<circle cx="332.60" cy="240.73" r="1.25" fill="#8d8dcc" stroke="#333" stroke-width="0.3"/>
<circle cx="284.50" cy="235.74" r="1.25" fill="#f5a11f" stroke="#333" stroke-width="0.3"/>
<circle cx="332.60" cy="237.40" r="1.25" fill="#f5a11f" stroke="#333" stroke-width="0.3"/>
<circle cx="284.50" cy="224.92" r="1.25" fill="#c8143a" stroke="#333" stroke-width="0.3"/>
<circle cx="332.60" cy="259.86" r="1.25" fill="#c8143a" stroke="#333" stroke-width="0.3"/>
<polyline points="236.40,295.64 284.50,295.22 332.60,293.98" fill="none" stroke="#5b3a17" stroke-width="0.85" stroke-opacity="0.9"/>
<polyline points="236.40,295.64 284.50,295.22 332.60,293.98" fill="none" stroke="#36aee6" stroke-width="0.85" stroke-opacity="0.9"/>
<polyline points="236.40,295.64 284.50,295.22 332.60,293.98" fill="none" stroke="#1d4f83" stroke-width="0.85" stroke-opacity="0.9"/>
<polyline points="236.40,295.64 284.50,295.22 332.60,293.98" fill="none" stroke="#4d1d70" stroke-width="0.85" stroke-opacity="0.9"/>
<polyline points="236.40,295.64 284.50,295.22 332.60,293.77" fill="none" stroke="#8d8dcc" stroke-width="0.85" stroke-opacity="0.9"/>
<polyline points="236.40,295.64 284.50,295.02 332.60,293.56" fill="none" stroke="#f5a11f" stroke-width="0.85" stroke-opacity="0.9"/>
<polyline points="236.40,295.64 284.50,295.22 332.60,293.56" fill="none" stroke="#c8143a" stroke-width="0.85" stroke-opacity="0.9"/>
<circle cx="284.50" cy="295.22" r="1.25" fill="#5b3a17" stroke="#333" stroke-width="0.3"/>
<circle cx="332.60" cy="293.98" r="1.25" fill="#5b3a17" stroke="#333" stroke-width="0.3"/>
<circle cx="284.50" cy="295.22" r="1.25" fill="#36aee6" stroke="#333" stroke-width="0.3"/>
<circle cx="332.60" cy="293.98" r="1.25" fill="#36aee6" stroke="#333" stroke-width="0.3"/>
<circle cx="284.50" cy="295.22" r="1.25" fill="#1d4f83" stroke="#333" stroke-width="0.3"/>
<circle cx="332.60" cy="293.98" r="1.25" fill="#1d4f83" stroke="#333" stroke-width="0.3"/>
<circle cx="284.50" cy="295.22" r="1.25" fill="#4d1d70" stroke="#333" stroke-width="0.3"/>
<circle cx="332.60" cy="293.98" r="1.25" fill="#4d1d70" stroke="#333" stroke-width="0.3"/>
<circle cx="284.50" cy="295.22" r="1.25" fill="#8d8dcc" stroke="#333" stroke-width="0.3"/>
<circle cx="332.60" cy="293.77" r="1.25" fill="#8d8dcc" stroke="#333" stroke-width="0.3"/>
<circle cx="284.50" cy="295.02" r="1.25" fill="#f5a11f" stroke="#333" stroke-width="0.3"/>
<circle cx="332.60" cy="293.56" r="1.25" fill="#f5a11f" stroke="#333" stroke-width="0.3"/>
<circle cx="284.50" cy="295.22" r="1.25" fill="#c8143a" stroke="#333" stroke-width="0.3"/>
<circle cx="332.60" cy="293.56" r="1.25" fill="#c8143a" stroke="#333" stroke-width="0.3"/>
<line x1="284.50" y1="217.43" x2="284.50" y2="242.81" stroke="#333" stroke-width="0.7"/>
<line x1="283.30" y1="217.43" x2="285.70" y2="217.43" stroke="#333" stroke-width="0.7"/>
<line x1="283.30" y1="242.81" x2="285.70" y2="242.81" stroke="#333" stroke-width="0.7"/>
<line x1="332.60" y1="234.49" x2="332.60" y2="274.84" stroke="#333" stroke-width="0.7"/>
<line x1="331.40" y1="234.49" x2="333.80" y2="234.49" stroke="#333" stroke-width="0.7"/>
<line x1="331.40" y1="274.84" x2="333.80" y2="274.84" stroke="#333" stroke-width="0.7"/>
<text x="274.20" y="215.00" font-size="8.5" textLength="27.68" lengthAdjust="spacingAndGlyphs">CD40L</text>
<text x="302.80" y="210.80" font-size="5.27" text-anchor="middle" font-weight="bold">+</text>
<text x="307.40" y="215.00" font-size="8.5" textLength="22.6" lengthAdjust="spacingAndGlyphs">L cells</text>
<text x="248.00" y="289.50" font-size="8.6" textLength="22.5" lengthAdjust="spacingAndGlyphs">L cells</text>
<text x="409.50" y="185.40" font-size="11" textLength="66.1" lengthAdjust="spacingAndGlyphs">bendamustine</text>
<line x1="388.70" y1="192.50" x2="388.70" y2="300.80" stroke="#231f20" stroke-width="1.7"/>
<line x1="384.70" y1="300.00" x2="497.20" y2="300.00" stroke="#231f20" stroke-width="1.5"/>
<line x1="384.70" y1="294.83" x2="388.70" y2="294.83" stroke="#231f20" stroke-width="1"/>
<text x="381.20" y="298.03" font-size="8.6" text-anchor="end">1</text>
<line x1="384.70" y1="274.15" x2="388.70" y2="274.15" stroke="#231f20" stroke-width="1"/>
<text x="381.20" y="277.35" font-size="8.6" text-anchor="end">5</text>
<line x1="384.70" y1="248.30" x2="388.70" y2="248.30" stroke="#231f20" stroke-width="1"/>
<text x="381.20" y="251.50" font-size="8.6" text-anchor="end">10</text>
<line x1="384.70" y1="222.45" x2="388.70" y2="222.45" stroke="#231f20" stroke-width="1"/>
<text x="381.20" y="225.65" font-size="8.6" text-anchor="end">15</text>
<line x1="384.70" y1="196.60" x2="388.70" y2="196.60" stroke="#231f20" stroke-width="1"/>
<text x="381.20" y="199.80" font-size="8.6" text-anchor="end">20</text>
<line x1="388.70" y1="300.00" x2="388.70" y2="303.60" stroke="#231f20" stroke-width="1"/>
<text x="388.70" y="316.00" font-size="8.6" text-anchor="middle">0</text>
<line x1="436.60" y1="300.00" x2="436.60" y2="303.60" stroke="#231f20" stroke-width="1"/>
<text x="436.60" y="316.00" font-size="8.6" text-anchor="middle">4</text>
<line x1="484.50" y1="300.00" x2="484.50" y2="303.60" stroke="#231f20" stroke-width="1"/>
<text x="484.50" y="316.00" font-size="8.6" text-anchor="middle">8</text>
<text x="494.20" y="315.80" font-size="8.4" textLength="16.6" lengthAdjust="spacingAndGlyphs">(hrs)</text>
<polyline points="388.70,245.20 436.60,232.79 484.50,236.41" fill="none" stroke="#5b3a17" stroke-width="0.85" stroke-opacity="0.9"/>
<polyline points="388.70,245.20 436.60,242.10 484.50,238.48" fill="none" stroke="#36aee6" stroke-width="0.85" stroke-opacity="0.9"/>
<polyline points="388.70,245.20 436.60,240.55 484.50,242.61" fill="none" stroke="#1d4f83" stroke-width="0.85" stroke-opacity="0.9"/>
<polyline points="388.70,245.20 436.60,243.13 484.50,244.16" fill="none" stroke="#4d1d70" stroke-width="0.85" stroke-opacity="0.9"/>
<polyline points="388.70,245.20 436.60,243.65 484.50,245.72" fill="none" stroke="#8d8dcc" stroke-width="0.85" stroke-opacity="0.9"/>
<polyline points="388.70,245.20 436.60,279.32 484.50,282.42" fill="none" stroke="#f5a11f" stroke-width="0.85" stroke-opacity="0.9"/>
<polyline points="388.70,245.20 436.60,285.01 484.50,290.69" fill="none" stroke="#c8143a" stroke-width="0.85" stroke-opacity="0.9"/>
<circle cx="436.60" cy="232.79" r="1.25" fill="#5b3a17" stroke="#333" stroke-width="0.3"/>
<circle cx="484.50" cy="236.41" r="1.25" fill="#5b3a17" stroke="#333" stroke-width="0.3"/>
<circle cx="436.60" cy="242.10" r="1.25" fill="#36aee6" stroke="#333" stroke-width="0.3"/>
<circle cx="484.50" cy="238.48" r="1.25" fill="#36aee6" stroke="#333" stroke-width="0.3"/>
<circle cx="436.60" cy="240.55" r="1.25" fill="#1d4f83" stroke="#333" stroke-width="0.3"/>
<circle cx="484.50" cy="242.61" r="1.25" fill="#1d4f83" stroke="#333" stroke-width="0.3"/>
<circle cx="436.60" cy="243.13" r="1.25" fill="#4d1d70" stroke="#333" stroke-width="0.3"/>
<circle cx="484.50" cy="244.16" r="1.25" fill="#4d1d70" stroke="#333" stroke-width="0.3"/>
<circle cx="436.60" cy="243.65" r="1.25" fill="#8d8dcc" stroke="#333" stroke-width="0.3"/>
<circle cx="484.50" cy="245.72" r="1.25" fill="#8d8dcc" stroke="#333" stroke-width="0.3"/>
<circle cx="436.60" cy="279.32" r="1.25" fill="#f5a11f" stroke="#333" stroke-width="0.3"/>
<circle cx="484.50" cy="282.42" r="1.25" fill="#f5a11f" stroke="#333" stroke-width="0.3"/>
<circle cx="436.60" cy="285.01" r="1.25" fill="#c8143a" stroke="#333" stroke-width="0.3"/>
<circle cx="484.50" cy="290.69" r="1.25" fill="#c8143a" stroke="#333" stroke-width="0.3"/>
<polyline points="388.70,294.83 436.60,293.80 484.50,293.80" fill="none" stroke="#5b3a17" stroke-width="0.85" stroke-opacity="0.9"/>
<polyline points="388.70,294.83 436.60,293.28 484.50,293.28" fill="none" stroke="#36aee6" stroke-width="0.85" stroke-opacity="0.9"/>
<polyline points="388.70,294.83 436.60,293.02 484.50,293.02" fill="none" stroke="#1d4f83" stroke-width="0.85" stroke-opacity="0.9"/>
<polyline points="388.70,294.83 436.60,293.54 484.50,293.54" fill="none" stroke="#4d1d70" stroke-width="0.85" stroke-opacity="0.9"/>
<polyline points="388.70,294.83 436.60,294.31 484.50,294.31" fill="none" stroke="#8d8dcc" stroke-width="0.85" stroke-opacity="0.9"/>
<polyline points="388.70,294.83 436.60,295.86 484.50,295.86" fill="none" stroke="#f5a11f" stroke-width="0.85" stroke-opacity="0.9"/>
<polyline points="388.70,294.83 436.60,296.64 484.50,296.64" fill="none" stroke="#c8143a" stroke-width="0.85" stroke-opacity="0.9"/>
<circle cx="436.60" cy="293.80" r="1.25" fill="#5b3a17" stroke="#333" stroke-width="0.3"/>
<circle cx="484.50" cy="293.80" r="1.25" fill="#5b3a17" stroke="#333" stroke-width="0.3"/>
<circle cx="436.60" cy="293.28" r="1.25" fill="#36aee6" stroke="#333" stroke-width="0.3"/>
<circle cx="484.50" cy="293.28" r="1.25" fill="#36aee6" stroke="#333" stroke-width="0.3"/>
<circle cx="436.60" cy="293.02" r="1.25" fill="#1d4f83" stroke="#333" stroke-width="0.3"/>
<circle cx="484.50" cy="293.02" r="1.25" fill="#1d4f83" stroke="#333" stroke-width="0.3"/>
<circle cx="436.60" cy="293.54" r="1.25" fill="#4d1d70" stroke="#333" stroke-width="0.3"/>
<circle cx="484.50" cy="293.54" r="1.25" fill="#4d1d70" stroke="#333" stroke-width="0.3"/>
<circle cx="436.60" cy="294.31" r="1.25" fill="#8d8dcc" stroke="#333" stroke-width="0.3"/>
<circle cx="484.50" cy="294.31" r="1.25" fill="#8d8dcc" stroke="#333" stroke-width="0.3"/>
<circle cx="436.60" cy="295.86" r="1.25" fill="#f5a11f" stroke="#333" stroke-width="0.3"/>
<circle cx="484.50" cy="295.86" r="1.25" fill="#f5a11f" stroke="#333" stroke-width="0.3"/>
<circle cx="436.60" cy="296.64" r="1.25" fill="#c8143a" stroke="#333" stroke-width="0.3"/>
<circle cx="484.50" cy="296.64" r="1.25" fill="#c8143a" stroke="#333" stroke-width="0.3"/>
<line x1="436.60" y1="229.69" x2="436.60" y2="235.89" stroke="#333" stroke-width="0.7"/>
<line x1="435.40" y1="229.69" x2="437.80" y2="229.69" stroke="#333" stroke-width="0.7"/>
<line x1="435.40" y1="235.89" x2="437.80" y2="235.89" stroke="#333" stroke-width="0.7"/>
<line x1="484.50" y1="229.17" x2="484.50" y2="247.27" stroke="#333" stroke-width="0.7"/>
<line x1="483.30" y1="229.17" x2="485.70" y2="229.17" stroke="#333" stroke-width="0.7"/>
<line x1="483.30" y1="247.27" x2="485.70" y2="247.27" stroke="#333" stroke-width="0.7"/>
<line x1="436.60" y1="276.22" x2="436.60" y2="287.07" stroke="#333" stroke-width="0.7"/>
<line x1="435.40" y1="276.22" x2="437.80" y2="276.22" stroke="#333" stroke-width="0.7"/>
<line x1="435.40" y1="287.07" x2="437.80" y2="287.07" stroke="#333" stroke-width="0.7"/>
<text x="411.60" y="220.40" font-size="8.5" textLength="27.48" lengthAdjust="spacingAndGlyphs">CD40L</text>
<text x="439.99" y="216.20" font-size="5.27" text-anchor="middle" font-weight="bold">+</text>
<text x="444.56" y="220.40" font-size="8.5" textLength="22.44" lengthAdjust="spacingAndGlyphs">L cells</text>
<text x="393.70" y="288.50" font-size="8.6" textLength="22.8" lengthAdjust="spacingAndGlyphs">L cells</text>
<text x="22.50" y="351.40" font-size="11" style="stroke-width:0.4px">HBL1</text>
<text transform="translate(58.6 401.5) rotate(-90)" font-size="9" text-anchor="middle" textLength="63" lengthAdjust="spacingAndGlyphs" font-weight="bold" fill="#2a2a2a" style="stroke:#2a2a2a;stroke-width:0.3px">RLU (fold change)</text>
<text x="115.80" y="338.80" font-size="11" textLength="47.3" lengthAdjust="spacingAndGlyphs">etoposide</text>
<line x1="85.10" y1="347.00" x2="85.10" y2="455.80" stroke="#231f20" stroke-width="1.7"/>
<line x1="81.10" y1="455.00" x2="193.60" y2="455.00" stroke="#231f20" stroke-width="1.5"/>
<line x1="81.10" y1="434.07" x2="85.10" y2="434.07" stroke="#231f20" stroke-width="1"/>
<text x="77.60" y="437.27" font-size="8.6" text-anchor="end">1</text>
<line x1="81.10" y1="413.14" x2="85.10" y2="413.14" stroke="#231f20" stroke-width="1"/>
<text x="77.60" y="416.34" font-size="8.6" text-anchor="end">2</text>
<line x1="81.10" y1="392.21" x2="85.10" y2="392.21" stroke="#231f20" stroke-width="1"/>
<text x="77.60" y="395.41" font-size="8.6" text-anchor="end">3</text>
<line x1="81.10" y1="371.28" x2="85.10" y2="371.28" stroke="#231f20" stroke-width="1"/>
<text x="77.60" y="374.48" font-size="8.6" text-anchor="end">4</text>
<line x1="81.10" y1="350.35" x2="85.10" y2="350.35" stroke="#231f20" stroke-width="1"/>
<text x="77.60" y="353.55" font-size="8.6" text-anchor="end">5</text>
<line x1="85.10" y1="455.00" x2="85.10" y2="458.60" stroke="#231f20" stroke-width="1"/>
<text x="85.10" y="471.00" font-size="8.6" text-anchor="middle">0</text>
<line x1="133.20" y1="455.00" x2="133.20" y2="458.60" stroke="#231f20" stroke-width="1"/>
<text x="133.20" y="471.00" font-size="8.6" text-anchor="middle">4</text>
<line x1="181.30" y1="455.00" x2="181.30" y2="458.60" stroke="#231f20" stroke-width="1"/>
<text x="181.30" y="471.00" font-size="8.6" text-anchor="middle">8</text>
<text x="190.60" y="470.80" font-size="8.4" textLength="16.6" lengthAdjust="spacingAndGlyphs">(hrs)</text>
<polyline points="85.10,375.88 133.20,384.26 181.30,393.88" fill="none" stroke="#5b3a17" stroke-width="0.85" stroke-opacity="0.9"/>
<polyline points="85.10,375.88 133.20,393.26 181.30,396.40" fill="none" stroke="#36aee6" stroke-width="0.85" stroke-opacity="0.9"/>
<polyline points="85.10,375.88 133.20,393.47 181.30,402.88" fill="none" stroke="#1d4f83" stroke-width="0.85" stroke-opacity="0.9"/>
<polyline points="85.10,375.88 133.20,389.70 181.30,395.35" fill="none" stroke="#4d1d70" stroke-width="0.85" stroke-opacity="0.9"/>
<polyline points="85.10,375.88 133.20,391.79 181.30,394.72" fill="none" stroke="#8d8dcc" stroke-width="0.85" stroke-opacity="0.9"/>
<polyline points="85.10,375.88 133.20,395.98 181.30,398.70" fill="none" stroke="#f5a11f" stroke-width="0.85" stroke-opacity="0.9"/>
<polyline points="85.10,375.88 133.20,392.21 181.30,395.98" fill="none" stroke="#c8143a" stroke-width="0.85" stroke-opacity="0.9"/>
<circle cx="133.20" cy="384.26" r="1.25" fill="#5b3a17" stroke="#333" stroke-width="0.3"/>
<circle cx="181.30" cy="393.88" r="1.25" fill="#5b3a17" stroke="#333" stroke-width="0.3"/>
<circle cx="133.20" cy="393.26" r="1.25" fill="#36aee6" stroke="#333" stroke-width="0.3"/>
<circle cx="181.30" cy="396.40" r="1.25" fill="#36aee6" stroke="#333" stroke-width="0.3"/>
<circle cx="133.20" cy="393.47" r="1.25" fill="#1d4f83" stroke="#333" stroke-width="0.3"/>
<circle cx="181.30" cy="402.88" r="1.25" fill="#1d4f83" stroke="#333" stroke-width="0.3"/>
<circle cx="133.20" cy="389.70" r="1.25" fill="#4d1d70" stroke="#333" stroke-width="0.3"/>
<circle cx="181.30" cy="395.35" r="1.25" fill="#4d1d70" stroke="#333" stroke-width="0.3"/>
<circle cx="133.20" cy="391.79" r="1.25" fill="#8d8dcc" stroke="#333" stroke-width="0.3"/>
<circle cx="181.30" cy="394.72" r="1.25" fill="#8d8dcc" stroke="#333" stroke-width="0.3"/>
<circle cx="133.20" cy="395.98" r="1.25" fill="#f5a11f" stroke="#333" stroke-width="0.3"/>
<circle cx="181.30" cy="398.70" r="1.25" fill="#f5a11f" stroke="#333" stroke-width="0.3"/>
<circle cx="133.20" cy="392.21" r="1.25" fill="#c8143a" stroke="#333" stroke-width="0.3"/>
<circle cx="181.30" cy="395.98" r="1.25" fill="#c8143a" stroke="#333" stroke-width="0.3"/>
<polyline points="85.10,434.07 133.20,428.84 181.30,426.74" fill="none" stroke="#5b3a17" stroke-width="0.85" stroke-opacity="0.9"/>
<polyline points="85.10,434.07 133.20,429.88 181.30,428.84" fill="none" stroke="#36aee6" stroke-width="0.85" stroke-opacity="0.9"/>
<polyline points="85.10,434.07 133.20,429.47 181.30,428.21" fill="none" stroke="#1d4f83" stroke-width="0.85" stroke-opacity="0.9"/>
<polyline points="85.10,434.07 133.20,428.84 181.30,425.70" fill="none" stroke="#4d1d70" stroke-width="0.85" stroke-opacity="0.9"/>
<polyline points="85.10,434.07 133.20,429.26 181.30,426.12" fill="none" stroke="#8d8dcc" stroke-width="0.85" stroke-opacity="0.9"/>
<polyline points="85.10,434.07 133.20,428.21 181.30,424.65" fill="none" stroke="#f5a11f" stroke-width="0.85" stroke-opacity="0.9"/>
<polyline points="85.10,434.07 133.20,427.79 181.30,424.02" fill="none" stroke="#c8143a" stroke-width="0.85" stroke-opacity="0.9"/>
<circle cx="133.20" cy="428.84" r="1.25" fill="#5b3a17" stroke="#333" stroke-width="0.3"/>
<circle cx="181.30" cy="426.74" r="1.25" fill="#5b3a17" stroke="#333" stroke-width="0.3"/>
<circle cx="133.20" cy="429.88" r="1.25" fill="#36aee6" stroke="#333" stroke-width="0.3"/>
<circle cx="181.30" cy="428.84" r="1.25" fill="#36aee6" stroke="#333" stroke-width="0.3"/>
<circle cx="133.20" cy="429.47" r="1.25" fill="#1d4f83" stroke="#333" stroke-width="0.3"/>
<circle cx="181.30" cy="428.21" r="1.25" fill="#1d4f83" stroke="#333" stroke-width="0.3"/>
<circle cx="133.20" cy="428.84" r="1.25" fill="#4d1d70" stroke="#333" stroke-width="0.3"/>
<circle cx="181.30" cy="425.70" r="1.25" fill="#4d1d70" stroke="#333" stroke-width="0.3"/>
<circle cx="133.20" cy="429.26" r="1.25" fill="#8d8dcc" stroke="#333" stroke-width="0.3"/>
<circle cx="181.30" cy="426.12" r="1.25" fill="#8d8dcc" stroke="#333" stroke-width="0.3"/>
<circle cx="133.20" cy="428.21" r="1.25" fill="#f5a11f" stroke="#333" stroke-width="0.3"/>
<circle cx="181.30" cy="424.65" r="1.25" fill="#f5a11f" stroke="#333" stroke-width="0.3"/>
<circle cx="133.20" cy="427.79" r="1.25" fill="#c8143a" stroke="#333" stroke-width="0.3"/>
<circle cx="181.30" cy="424.02" r="1.25" fill="#c8143a" stroke="#333" stroke-width="0.3"/>
<line x1="133.20" y1="380.49" x2="133.20" y2="401.21" stroke="#333" stroke-width="0.7"/>
<line x1="132.00" y1="380.49" x2="134.40" y2="380.49" stroke="#333" stroke-width="0.7"/>
<line x1="132.00" y1="401.21" x2="134.40" y2="401.21" stroke="#333" stroke-width="0.7"/>
<line x1="181.30" y1="388.86" x2="181.30" y2="406.86" stroke="#333" stroke-width="0.7"/>
<line x1="180.10" y1="388.86" x2="182.50" y2="388.86" stroke="#333" stroke-width="0.7"/>
<line x1="180.10" y1="406.86" x2="182.50" y2="406.86" stroke="#333" stroke-width="0.7"/>
<text x="97.60" y="370.00" font-size="8.5" textLength="27.92" lengthAdjust="spacingAndGlyphs">CD40L</text>
<text x="126.45" y="365.80" font-size="5.27" text-anchor="middle" font-weight="bold">+</text>
<text x="131.10" y="370.00" font-size="8.5" textLength="22.8" lengthAdjust="spacingAndGlyphs">L cells</text>
<text x="93.00" y="442.20" font-size="8.6" textLength="23" lengthAdjust="spacingAndGlyphs">L cells</text>
<text x="269.70" y="338.80" font-size="11" textLength="42.6" lengthAdjust="spacingAndGlyphs">4-OHCP</text>
<line x1="236.40" y1="347.00" x2="236.40" y2="455.80" stroke="#231f20" stroke-width="1.7"/>
<line x1="232.40" y1="455.00" x2="344.90" y2="455.00" stroke="#231f20" stroke-width="1.5"/>
<line x1="232.40" y1="441.60" x2="236.40" y2="441.60" stroke="#231f20" stroke-width="1"/>
<text x="228.90" y="444.80" font-size="8.6" text-anchor="end">1</text>
<line x1="232.40" y1="428.50" x2="236.40" y2="428.50" stroke="#231f20" stroke-width="1"/>
<text x="228.90" y="431.70" font-size="8.6" text-anchor="end">2</text>
<line x1="232.40" y1="402.30" x2="236.40" y2="402.30" stroke="#231f20" stroke-width="1"/>
<text x="228.90" y="405.50" font-size="8.6" text-anchor="end">4</text>
<line x1="232.40" y1="376.10" x2="236.40" y2="376.10" stroke="#231f20" stroke-width="1"/>
<text x="228.90" y="379.30" font-size="8.6" text-anchor="end">6</text>
<line x1="232.40" y1="349.90" x2="236.40" y2="349.90" stroke="#231f20" stroke-width="1"/>
<text x="228.90" y="353.10" font-size="8.6" text-anchor="end">8</text>
<line x1="236.40" y1="455.00" x2="236.40" y2="458.60" stroke="#231f20" stroke-width="1"/>
<text x="236.40" y="471.00" font-size="8.6" text-anchor="middle">0</text>
<line x1="284.50" y1="455.00" x2="284.50" y2="458.60" stroke="#231f20" stroke-width="1"/>
<text x="284.50" y="471.00" font-size="8.6" text-anchor="middle">4</text>
<line x1="332.60" y1="455.00" x2="332.60" y2="458.60" stroke="#231f20" stroke-width="1"/>
<text x="332.60" y="471.00" font-size="8.6" text-anchor="middle">8</text>
<text x="341.90" y="470.80" font-size="8.4" textLength="16.6" lengthAdjust="spacingAndGlyphs">(hrs)</text>
<polyline points="236.40,386.19 284.50,388.02 332.60,403.48" fill="none" stroke="#5b3a17" stroke-width="0.85" stroke-opacity="0.9"/>
<polyline points="236.40,386.19 284.50,381.34 332.60,395.75" fill="none" stroke="#36aee6" stroke-width="0.85" stroke-opacity="0.9"/>
<polyline points="236.40,386.19 284.50,380.42 332.60,396.54" fill="none" stroke="#1d4f83" stroke-width="0.85" stroke-opacity="0.9"/>
<polyline points="236.40,386.19 284.50,381.47 332.60,397.06" fill="none" stroke="#4d1d70" stroke-width="0.85" stroke-opacity="0.9"/>
<polyline points="236.40,386.19 284.50,369.94 332.60,393.52" fill="none" stroke="#8d8dcc" stroke-width="0.85" stroke-opacity="0.9"/>
<polyline points="236.40,386.19 284.50,368.76 332.60,391.82" fill="none" stroke="#f5a11f" stroke-width="0.85" stroke-opacity="0.9"/>
<polyline points="236.40,386.19 284.50,372.96 332.60,391.16" fill="none" stroke="#c8143a" stroke-width="0.85" stroke-opacity="0.9"/>
<circle cx="284.50" cy="388.02" r="1.25" fill="#5b3a17" stroke="#333" stroke-width="0.3"/>
<circle cx="332.60" cy="403.48" r="1.25" fill="#5b3a17" stroke="#333" stroke-width="0.3"/>
<circle cx="284.50" cy="381.34" r="1.25" fill="#36aee6" stroke="#333" stroke-width="0.3"/>
<circle cx="332.60" cy="395.75" r="1.25" fill="#36aee6" stroke="#333" stroke-width="0.3"/>
<circle cx="284.50" cy="380.42" r="1.25" fill="#1d4f83" stroke="#333" stroke-width="0.3"/>
<circle cx="332.60" cy="396.54" r="1.25" fill="#1d4f83" stroke="#333" stroke-width="0.3"/>
<circle cx="284.50" cy="381.47" r="1.25" fill="#4d1d70" stroke="#333" stroke-width="0.3"/>
<circle cx="332.60" cy="397.06" r="1.25" fill="#4d1d70" stroke="#333" stroke-width="0.3"/>
<circle cx="284.50" cy="369.94" r="1.25" fill="#8d8dcc" stroke="#333" stroke-width="0.3"/>
<circle cx="332.60" cy="393.52" r="1.25" fill="#8d8dcc" stroke="#333" stroke-width="0.3"/>
<circle cx="284.50" cy="368.76" r="1.25" fill="#f5a11f" stroke="#333" stroke-width="0.3"/>
<circle cx="332.60" cy="391.82" r="1.25" fill="#f5a11f" stroke="#333" stroke-width="0.3"/>
<circle cx="284.50" cy="372.96" r="1.25" fill="#c8143a" stroke="#333" stroke-width="0.3"/>
<circle cx="332.60" cy="391.16" r="1.25" fill="#c8143a" stroke="#333" stroke-width="0.3"/>
<polyline points="236.40,441.60 284.50,437.67 332.60,435.05" fill="none" stroke="#5b3a17" stroke-width="0.85" stroke-opacity="0.9"/>
<polyline points="236.40,441.60 284.50,437.67 332.60,435.70" fill="none" stroke="#36aee6" stroke-width="0.85" stroke-opacity="0.9"/>
<polyline points="236.40,441.60 284.50,437.67 332.60,435.05" fill="none" stroke="#1d4f83" stroke-width="0.85" stroke-opacity="0.9"/>
<polyline points="236.40,441.60 284.50,437.67 332.60,434.79" fill="none" stroke="#4d1d70" stroke-width="0.85" stroke-opacity="0.9"/>
<polyline points="236.40,441.60 284.50,437.67 332.60,435.70" fill="none" stroke="#8d8dcc" stroke-width="0.85" stroke-opacity="0.9"/>
<polyline points="236.40,441.60 284.50,437.67 332.60,436.36" fill="none" stroke="#f5a11f" stroke-width="0.85" stroke-opacity="0.9"/>
<polyline points="236.40,441.60 284.50,437.67 332.60,436.36" fill="none" stroke="#c8143a" stroke-width="0.85" stroke-opacity="0.9"/>
<circle cx="284.50" cy="437.67" r="1.25" fill="#5b3a17" stroke="#333" stroke-width="0.3"/>
<circle cx="332.60" cy="435.05" r="1.25" fill="#5b3a17" stroke="#333" stroke-width="0.3"/>
<circle cx="284.50" cy="437.67" r="1.25" fill="#36aee6" stroke="#333" stroke-width="0.3"/>
<circle cx="332.60" cy="435.70" r="1.25" fill="#36aee6" stroke="#333" stroke-width="0.3"/>
<circle cx="284.50" cy="437.67" r="1.25" fill="#1d4f83" stroke="#333" stroke-width="0.3"/>
<circle cx="332.60" cy="435.05" r="1.25" fill="#1d4f83" stroke="#333" stroke-width="0.3"/>
<circle cx="284.50" cy="437.67" r="1.25" fill="#4d1d70" stroke="#333" stroke-width="0.3"/>
<circle cx="332.60" cy="434.79" r="1.25" fill="#4d1d70" stroke="#333" stroke-width="0.3"/>
<circle cx="284.50" cy="437.67" r="1.25" fill="#8d8dcc" stroke="#333" stroke-width="0.3"/>
<circle cx="332.60" cy="435.70" r="1.25" fill="#8d8dcc" stroke="#333" stroke-width="0.3"/>
<circle cx="284.50" cy="437.67" r="1.25" fill="#f5a11f" stroke="#333" stroke-width="0.3"/>
<circle cx="332.60" cy="436.36" r="1.25" fill="#f5a11f" stroke="#333" stroke-width="0.3"/>
<circle cx="284.50" cy="437.67" r="1.25" fill="#c8143a" stroke="#333" stroke-width="0.3"/>
<circle cx="332.60" cy="436.36" r="1.25" fill="#c8143a" stroke="#333" stroke-width="0.3"/>
<line x1="284.50" y1="357.24" x2="284.50" y2="385.27" stroke="#333" stroke-width="0.7"/>
<line x1="283.30" y1="357.24" x2="285.70" y2="357.24" stroke="#333" stroke-width="0.7"/>
<line x1="283.30" y1="385.27" x2="285.70" y2="385.27" stroke="#333" stroke-width="0.7"/>
<line x1="332.60" y1="389.59" x2="332.60" y2="397.71" stroke="#333" stroke-width="0.7"/>
<line x1="331.40" y1="389.59" x2="333.80" y2="389.59" stroke="#333" stroke-width="0.7"/>
<line x1="331.40" y1="397.71" x2="333.80" y2="397.71" stroke="#333" stroke-width="0.7"/>
<line x1="284.50" y1="435.70" x2="284.50" y2="439.63" stroke="#333" stroke-width="0.7"/>
<line x1="283.30" y1="435.70" x2="285.70" y2="435.70" stroke="#333" stroke-width="0.7"/>
<line x1="283.30" y1="439.63" x2="285.70" y2="439.63" stroke="#333" stroke-width="0.7"/>
<line x1="332.60" y1="432.43" x2="332.60" y2="437.67" stroke="#333" stroke-width="0.7"/>
<line x1="331.40" y1="432.43" x2="333.80" y2="432.43" stroke="#333" stroke-width="0.7"/>
<line x1="331.40" y1="437.67" x2="333.80" y2="437.67" stroke="#333" stroke-width="0.7"/>
<text x="239.30" y="402.80" font-size="8.5" textLength="27.23" lengthAdjust="spacingAndGlyphs">CD40L</text>
<text x="267.44" y="398.60" font-size="5.27" text-anchor="middle" font-weight="bold">+</text>
<text x="271.97" y="402.80" font-size="8.5" textLength="22.23" lengthAdjust="spacingAndGlyphs">L cells</text>
<text x="243.00" y="434.20" font-size="8.6" textLength="22.4" lengthAdjust="spacingAndGlyphs">L cells</text>
<text x="409.50" y="338.80" font-size="11" textLength="66.1" lengthAdjust="spacingAndGlyphs">bendamustine</text>
<line x1="388.70" y1="347.00" x2="388.70" y2="455.80" stroke="#231f20" stroke-width="1.7"/>
<line x1="384.70" y1="455.00" x2="497.20" y2="455.00" stroke="#231f20" stroke-width="1.5"/>
<line x1="384.70" y1="419.80" x2="388.70" y2="419.80" stroke="#231f20" stroke-width="1"/>
<text x="381.20" y="423.00" font-size="8.6" text-anchor="end">1</text>
<line x1="384.70" y1="384.60" x2="388.70" y2="384.60" stroke="#231f20" stroke-width="1"/>
<text x="381.20" y="387.80" font-size="8.6" text-anchor="end">2</text>
<line x1="384.70" y1="349.40" x2="388.70" y2="349.40" stroke="#231f20" stroke-width="1"/>
<text x="381.20" y="352.60" font-size="8.6" text-anchor="end">3</text>
<line x1="388.70" y1="455.00" x2="388.70" y2="458.60" stroke="#231f20" stroke-width="1"/>
<text x="388.70" y="471.00" font-size="8.6" text-anchor="middle">0</text>
<line x1="436.60" y1="455.00" x2="436.60" y2="458.60" stroke="#231f20" stroke-width="1"/>
<text x="436.60" y="471.00" font-size="8.6" text-anchor="middle">4</text>
<line x1="484.50" y1="455.00" x2="484.50" y2="458.60" stroke="#231f20" stroke-width="1"/>
<text x="484.50" y="471.00" font-size="8.6" text-anchor="middle">8</text>
<text x="494.20" y="470.80" font-size="8.4" textLength="16.6" lengthAdjust="spacingAndGlyphs">(hrs)</text>
<polyline points="388.70,371.93 436.60,372.63 484.50,383.90" fill="none" stroke="#5b3a17" stroke-width="0.85" stroke-opacity="0.9"/>
<polyline points="388.70,371.93 436.60,369.82 484.50,381.08" fill="none" stroke="#36aee6" stroke-width="0.85" stroke-opacity="0.9"/>
<polyline points="388.70,371.93 436.60,365.24 484.50,385.30" fill="none" stroke="#1d4f83" stroke-width="0.85" stroke-opacity="0.9"/>
<polyline points="388.70,371.93 436.60,367.70 484.50,384.60" fill="none" stroke="#4d1d70" stroke-width="0.85" stroke-opacity="0.9"/>
<polyline points="388.70,371.93 436.60,377.56 484.50,381.78" fill="none" stroke="#8d8dcc" stroke-width="0.85" stroke-opacity="0.9"/>
<polyline points="388.70,371.93 436.60,378.62 484.50,393.05" fill="none" stroke="#f5a11f" stroke-width="0.85" stroke-opacity="0.9"/>
<polyline points="388.70,371.93 436.60,383.90 484.50,400.79" fill="none" stroke="#c8143a" stroke-width="0.85" stroke-opacity="0.9"/>
<circle cx="436.60" cy="372.63" r="1.25" fill="#5b3a17" stroke="#333" stroke-width="0.3"/>
<circle cx="484.50" cy="383.90" r="1.25" fill="#5b3a17" stroke="#333" stroke-width="0.3"/>
<circle cx="436.60" cy="369.82" r="1.25" fill="#36aee6" stroke="#333" stroke-width="0.3"/>
<circle cx="484.50" cy="381.08" r="1.25" fill="#36aee6" stroke="#333" stroke-width="0.3"/>
<circle cx="436.60" cy="365.24" r="1.25" fill="#1d4f83" stroke="#333" stroke-width="0.3"/>
<circle cx="484.50" cy="385.30" r="1.25" fill="#1d4f83" stroke="#333" stroke-width="0.3"/>
<circle cx="436.60" cy="367.70" r="1.25" fill="#4d1d70" stroke="#333" stroke-width="0.3"/>
<circle cx="484.50" cy="384.60" r="1.25" fill="#4d1d70" stroke="#333" stroke-width="0.3"/>
<circle cx="436.60" cy="377.56" r="1.25" fill="#8d8dcc" stroke="#333" stroke-width="0.3"/>
<circle cx="484.50" cy="381.78" r="1.25" fill="#8d8dcc" stroke="#333" stroke-width="0.3"/>
<circle cx="436.60" cy="378.62" r="1.25" fill="#f5a11f" stroke="#333" stroke-width="0.3"/>
<circle cx="484.50" cy="393.05" r="1.25" fill="#f5a11f" stroke="#333" stroke-width="0.3"/>
<circle cx="436.60" cy="383.90" r="1.25" fill="#c8143a" stroke="#333" stroke-width="0.3"/>
<circle cx="484.50" cy="400.79" r="1.25" fill="#c8143a" stroke="#333" stroke-width="0.3"/>
<polyline points="388.70,419.80 436.60,418.04 484.50,418.04" fill="none" stroke="#5b3a17" stroke-width="0.85" stroke-opacity="0.9"/>
<polyline points="388.70,419.80 436.60,416.98 484.50,416.98" fill="none" stroke="#36aee6" stroke-width="0.85" stroke-opacity="0.9"/>
<polyline points="388.70,419.80 436.60,416.28 484.50,416.28" fill="none" stroke="#1d4f83" stroke-width="0.85" stroke-opacity="0.9"/>
<polyline points="388.70,419.80 436.60,416.63 484.50,416.28" fill="none" stroke="#4d1d70" stroke-width="0.85" stroke-opacity="0.9"/>
<polyline points="388.70,419.80 436.60,418.39 484.50,417.69" fill="none" stroke="#8d8dcc" stroke-width="0.85" stroke-opacity="0.9"/>
<polyline points="388.70,419.80 436.60,419.80 484.50,419.10" fill="none" stroke="#f5a11f" stroke-width="0.85" stroke-opacity="0.9"/>
<polyline points="388.70,419.80 436.60,422.26 484.50,420.15" fill="none" stroke="#c8143a" stroke-width="0.85" stroke-opacity="0.9"/>
<circle cx="436.60" cy="418.04" r="1.25" fill="#5b3a17" stroke="#333" stroke-width="0.3"/>
<circle cx="484.50" cy="418.04" r="1.25" fill="#5b3a17" stroke="#333" stroke-width="0.3"/>
<circle cx="436.60" cy="416.98" r="1.25" fill="#36aee6" stroke="#333" stroke-width="0.3"/>
<circle cx="484.50" cy="416.98" r="1.25" fill="#36aee6" stroke="#333" stroke-width="0.3"/>
<circle cx="436.60" cy="416.28" r="1.25" fill="#1d4f83" stroke="#333" stroke-width="0.3"/>
<circle cx="484.50" cy="416.28" r="1.25" fill="#1d4f83" stroke="#333" stroke-width="0.3"/>
<circle cx="436.60" cy="416.63" r="1.25" fill="#4d1d70" stroke="#333" stroke-width="0.3"/>
<circle cx="484.50" cy="416.28" r="1.25" fill="#4d1d70" stroke="#333" stroke-width="0.3"/>
<circle cx="436.60" cy="418.39" r="1.25" fill="#8d8dcc" stroke="#333" stroke-width="0.3"/>
<circle cx="484.50" cy="417.69" r="1.25" fill="#8d8dcc" stroke="#333" stroke-width="0.3"/>
<circle cx="436.60" cy="419.80" r="1.25" fill="#f5a11f" stroke="#333" stroke-width="0.3"/>
<circle cx="484.50" cy="419.10" r="1.25" fill="#f5a11f" stroke="#333" stroke-width="0.3"/>
<circle cx="436.60" cy="422.26" r="1.25" fill="#c8143a" stroke="#333" stroke-width="0.3"/>
<circle cx="484.50" cy="420.15" r="1.25" fill="#c8143a" stroke="#333" stroke-width="0.3"/>
<line x1="436.60" y1="363.48" x2="436.60" y2="381.08" stroke="#333" stroke-width="0.7"/>
<line x1="435.40" y1="363.48" x2="437.80" y2="363.48" stroke="#333" stroke-width="0.7"/>
<line x1="435.40" y1="381.08" x2="437.80" y2="381.08" stroke="#333" stroke-width="0.7"/>
<line x1="484.50" y1="377.56" x2="484.50" y2="389.88" stroke="#333" stroke-width="0.7"/>
<line x1="483.30" y1="377.56" x2="485.70" y2="377.56" stroke="#333" stroke-width="0.7"/>
<line x1="483.30" y1="389.88" x2="485.70" y2="389.88" stroke="#333" stroke-width="0.7"/>
<line x1="484.50" y1="393.40" x2="484.50" y2="402.20" stroke="#333" stroke-width="0.7"/>
<line x1="483.30" y1="393.40" x2="485.70" y2="393.40" stroke="#333" stroke-width="0.7"/>
<line x1="483.30" y1="402.20" x2="485.70" y2="402.20" stroke="#333" stroke-width="0.7"/>
<text x="396.00" y="361.50" font-size="8.5" textLength="28.07" lengthAdjust="spacingAndGlyphs">CD40L</text>
<text x="425.01" y="357.30" font-size="5.27" text-anchor="middle" font-weight="bold">+</text>
<text x="429.68" y="361.50" font-size="8.5" textLength="22.92" lengthAdjust="spacingAndGlyphs">L cells</text>
<text x="396.60" y="431.80" font-size="8.6" textLength="23.2" lengthAdjust="spacingAndGlyphs">L cells</text>
<text x="9.20" y="21.80" font-size="14.5" textLength="10.3" lengthAdjust="spacingAndGlyphs" font-weight="bold" fill="#000" style="stroke:#000;stroke-width:0.7px">A</text>
<line x1="100.00" y1="485.00" x2="468.40" y2="485.00" stroke="#2a2a2a" stroke-width="1.4"/>
<line x1="100.00" y1="499.31" x2="468.40" y2="499.31" stroke="#2a2a2a" stroke-width="1.4"/>
<line x1="100.00" y1="513.62" x2="468.40" y2="513.62" stroke="#2a2a2a" stroke-width="1.4"/>
<line x1="100.00" y1="527.93" x2="468.40" y2="527.93" stroke="#2a2a2a" stroke-width="1.4"/>
<line x1="100.00" y1="542.24" x2="468.40" y2="542.24" stroke="#2a2a2a" stroke-width="1.4"/>
<line x1="100.00" y1="556.55" x2="468.40" y2="556.55" stroke="#2a2a2a" stroke-width="1.4"/>
<line x1="100.00" y1="570.86" x2="468.40" y2="570.86" stroke="#2a2a2a" stroke-width="1.4"/>
<line x1="100.00" y1="585.17" x2="468.40" y2="585.17" stroke="#2a2a2a" stroke-width="1.4"/>
<line x1="100.00" y1="599.48" x2="468.40" y2="599.48" stroke="#2a2a2a" stroke-width="1.4"/>
<line x1="100.00" y1="484.30" x2="100.00" y2="600.18" stroke="#2a2a2a" stroke-width="1.4"/>
<line x1="192.30" y1="484.30" x2="192.30" y2="600.18" stroke="#2a2a2a" stroke-width="1.4"/>
<line x1="284.80" y1="484.30" x2="284.80" y2="600.18" stroke="#2a2a2a" stroke-width="1.4"/>
<line x1="376.80" y1="484.30" x2="376.80" y2="600.18" stroke="#2a2a2a" stroke-width="1.4"/>
<line x1="468.40" y1="484.30" x2="468.40" y2="600.18" stroke="#2a2a2a" stroke-width="1.4"/>
<text x="238.55" y="494.60" font-size="8.3" text-anchor="middle" textLength="35" lengthAdjust="spacingAndGlyphs">etoposide</text>
<text x="330.80" y="494.60" font-size="8.3" text-anchor="middle" textLength="32.5" lengthAdjust="spacingAndGlyphs">4-OHCP</text>
<text x="422.60" y="494.60" font-size="8.3" text-anchor="middle" textLength="50.6" lengthAdjust="spacingAndGlyphs">bendamustine</text>
<text x="238.55" y="508.91" font-size="8.4" text-anchor="middle">DMSO</text>
<text x="330.80" y="508.91" font-size="8.4" text-anchor="middle">DMSO</text>
<text x="422.60" y="508.91" font-size="8.4" text-anchor="middle">DMSO</text>
<line x1="136.00" y1="506.47" x2="156.00" y2="506.47" stroke="#5b3a17" stroke-width="1.1"/>
<circle cx="146" cy="506.47" r="3.6" fill="#5b3a17"/>
<text x="238.55" y="523.22" font-size="8.4" text-anchor="middle">0.03 µM</text>
<text x="330.80" y="523.22" font-size="8.4" text-anchor="middle">0.3 µM</text>
<text x="422.60" y="523.22" font-size="8.4" text-anchor="middle">1.0 µM</text>
<line x1="136.00" y1="520.77" x2="156.00" y2="520.77" stroke="#36aee6" stroke-width="1.1"/>
<circle cx="146" cy="520.77" r="3.6" fill="#36aee6"/>
<text x="238.55" y="537.53" font-size="8.4" text-anchor="middle">0.17 µM</text>
<text x="330.80" y="537.53" font-size="8.4" text-anchor="middle">1.7 µM</text>
<text x="422.60" y="537.53" font-size="8.4" text-anchor="middle">5.0 µM</text>
<line x1="136.00" y1="535.09" x2="156.00" y2="535.09" stroke="#1d4f83" stroke-width="1.1"/>
<circle cx="146" cy="535.09" r="3.6" fill="#1d4f83"/>
<text x="238.55" y="551.84" font-size="8.4" text-anchor="middle">0.5 µM</text>
<text x="330.80" y="551.84" font-size="8.4" text-anchor="middle">5.0 µM</text>
<text x="422.60" y="551.84" font-size="8.4" text-anchor="middle">15 µM</text>
<line x1="136.00" y1="549.39" x2="156.00" y2="549.39" stroke="#4d1d70" stroke-width="1.1"/>
<circle cx="146" cy="549.39" r="3.6" fill="#4d1d70"/>
<text x="238.55" y="566.15" font-size="8.4" text-anchor="middle">1.0 µM</text>
<text x="330.80" y="566.15" font-size="8.4" text-anchor="middle">10 µM</text>
<text x="422.60" y="566.15" font-size="8.4" text-anchor="middle">30 µM</text>
<line x1="136.00" y1="563.70" x2="156.00" y2="563.70" stroke="#8d8dcc" stroke-width="1.1"/>
<circle cx="146" cy="563.70" r="3.6" fill="#8d8dcc"/>
<text x="238.55" y="580.46" font-size="8.4" text-anchor="middle">1.5 µM</text>
<text x="330.80" y="580.46" font-size="8.4" text-anchor="middle">15 µM</text>
<text x="422.60" y="580.46" font-size="8.4" text-anchor="middle">45 µM</text>
<line x1="136.00" y1="578.01" x2="156.00" y2="578.01" stroke="#f5a11f" stroke-width="1.1"/>
<circle cx="146" cy="578.01" r="3.6" fill="#f5a11f"/>
<text x="238.55" y="594.77" font-size="8.4" text-anchor="middle">2.5 µM</text>
<text x="330.80" y="594.77" font-size="8.4" text-anchor="middle">25 µM</text>
<text x="422.60" y="594.77" font-size="8.4" text-anchor="middle">75 µM</text>
<line x1="136.00" y1="592.33" x2="156.00" y2="592.33" stroke="#c8143a" stroke-width="1.1"/>
<circle cx="146" cy="592.33" r="3.6" fill="#c8143a"/>
<text x="9.80" y="623.70" font-size="16" textLength="10.5" lengthAdjust="spacingAndGlyphs" font-weight="bold" fill="#000" style="stroke:#000;stroke-width:0.7px">B</text>
<defs><filter id="bblur" x="-5%" y="-5%" width="110%" height="110%"><feGaussianBlur stdDeviation="1.2"/></filter><filter id="bblur1" x="-5%" y="-5%" width="110%" height="110%"><feGaussianBlur stdDeviation="0.8"/></filter><filter id="bsoft" x="-50%" y="-50%" width="200%" height="200%"><feGaussianBlur stdDeviation="0.6"/></filter><filter id="bnoise" x="0" y="0" width="100%" height="100%"><feTurbulence type="fractalNoise" baseFrequency="0.5 0.3" numOctaves="2" seed="7"/><feColorMatrix type="matrix" values="0 0 0 0 0  0 0 0 0 0  0 0 0 0 0  0 0 0 -2.5 1.6"/></filter><filter id="bmottle" x="0" y="0" width="100%" height="100%"><feTurbulence type="fractalNoise" baseFrequency="0.14 0.09" numOctaves="2" seed="11"/><feColorMatrix type="matrix" values="0 0 0 0 0  0 0 0 0 0  0 0 0 0 0  0 0 0 -3.2 1.9"/></filter><filter id="bstreak" x="0" y="0" width="100%" height="100%"><feTurbulence type="fractalNoise" baseFrequency="0.22 0.012" numOctaves="2" seed="3"/><feColorMatrix type="matrix" values="0 0 0 0 0  0 0 0 0 0  0 0 0 0 0  0 0 0 -3 1.9"/></filter></defs><defs><linearGradient id="blbg" x1="0" y1="653.3" x2="0" y2="810.0" gradientUnits="userSpaceOnUse"><stop offset="-0.0019" stop-color="#ececec"/><stop offset="0.0555" stop-color="#f4f4f4"/><stop offset="0.2980" stop-color="#f8f8f8"/><stop offset="0.9936" stop-color="#fafafa"/></linearGradient><linearGradient id="bll0" x1="0" y1="653.3" x2="0" y2="810.0" gradientUnits="userSpaceOnUse"><stop offset="-0.0019" stop-color="#f5f5f5"/><stop offset="0.0555" stop-color="#cdcdcd"/><stop offset="0.0938" stop-color="#3c3c3c"/><stop offset="0.2087" stop-color="#323232"/><stop offset="0.2980" stop-color="#5f5f5f"/><stop offset="0.3746" stop-color="#7d7d7d"/><stop offset="0.4576" stop-color="#a0a0a0"/><stop offset="0.5852" stop-color="#d7d7d7"/><stop offset="0.7447" stop-color="#eeeeee"/><stop offset="0.9936" stop-color="#f8f8f8"/></linearGradient><linearGradient id="bll1" x1="0" y1="653.3" x2="0" y2="810.0" gradientUnits="userSpaceOnUse"><stop offset="-0.0019" stop-color="#f5f5f5"/><stop offset="0.0555" stop-color="#cdcdcd"/><stop offset="0.0938" stop-color="#3c3c3c"/><stop offset="0.3746" stop-color="#282828"/><stop offset="0.4384" stop-color="#464646"/><stop offset="0.5533" stop-color="#5a5a5a"/><stop offset="0.6299" stop-color="#6e6e6e"/><stop offset="0.6937" stop-color="#a0a0a0"/><stop offset="0.7766" stop-color="#d2d2d2"/><stop offset="0.8724" stop-color="#ebebeb"/><stop offset="0.9936" stop-color="#f6f6f6"/></linearGradient><linearGradient id="bll2" x1="0" y1="653.3" x2="0" y2="810.0" gradientUnits="userSpaceOnUse"><stop offset="-0.0019" stop-color="#f5f5f5"/><stop offset="0.0555" stop-color="#d2d2d2"/><stop offset="0.0938" stop-color="#505050"/><stop offset="0.1768" stop-color="#323232"/><stop offset="0.2661" stop-color="#464646"/><stop offset="0.3746" stop-color="#555555"/><stop offset="0.4576" stop-color="#787878"/><stop offset="0.5533" stop-color="#bebebe"/><stop offset="0.6809" stop-color="#e4e4e4"/><stop offset="0.9936" stop-color="#f8f8f8"/></linearGradient><linearGradient id="bll3" x1="0" y1="653.3" x2="0" y2="810.0" gradientUnits="userSpaceOnUse"><stop offset="-0.0019" stop-color="#f5f5f5"/><stop offset="0.0619" stop-color="#d2d2d2"/><stop offset="0.0938" stop-color="#6e6e6e"/><stop offset="0.1832" stop-color="#6e6e6e"/><stop offset="0.2661" stop-color="#8c8c8c"/><stop offset="0.3746" stop-color="#9b9b9b"/><stop offset="0.4576" stop-color="#b9b9b9"/><stop offset="0.5852" stop-color="#e1e1e1"/><stop offset="0.9936" stop-color="#f8f8f8"/></linearGradient><linearGradient id="bll4" x1="0" y1="653.3" x2="0" y2="810.0" gradientUnits="userSpaceOnUse"><stop offset="-0.0019" stop-color="#f5f5f5"/><stop offset="0.0619" stop-color="#bebebe"/><stop offset="0.0874" stop-color="#8c8c8c"/><stop offset="0.2342" stop-color="#8c8c8c"/><stop offset="0.3299" stop-color="#a0a0a0"/><stop offset="0.4257" stop-color="#b9b9b9"/><stop offset="0.5533" stop-color="#dcdcdc"/><stop offset="0.9936" stop-color="#f8f8f8"/></linearGradient><clipPath id="blmclip"><rect x="138.5" y="668" width="15.00" height="102.00"/><rect x="159.2" y="668" width="15.40" height="102.00"/><rect x="178.8" y="668" width="13.80" height="102.00"/><rect x="196.8" y="668" width="14.40" height="102.00"/><rect x="215.4" y="668" width="15.80" height="102.00"/></clipPath><linearGradient id="blmg" x1="0" y1="668" x2="0" y2="770" gradientUnits="userSpaceOnUse"><stop offset="0" stop-color="#fff"/><stop offset="0.55" stop-color="#fff"/><stop offset="1" stop-color="#000"/></linearGradient><mask id="blmm" maskUnits="userSpaceOnUse" x="134.6" y="653.3" width="100.10" height="156.70"><rect x="134.6" y="668" width="100.10" height="102.00" fill="url(#blmg)"/></mask><clipPath id="blclip"><rect x="134.6" y="653.3" width="100.10" height="156.70"/></clipPath><clipPath id="bllclip"><rect x="137.5" y="653.3" width="17.00" height="156.70"/><rect x="158.2" y="653.3" width="17.40" height="156.70"/><rect x="177.8" y="653.3" width="15.80" height="156.70"/><rect x="195.8" y="653.3" width="16.40" height="156.70"/><rect x="214.4" y="653.3" width="17.80" height="156.70"/></clipPath></defs><rect x="134.6" y="653.3" width="100.10" height="156.70" fill="url(#blbg)" filter="url(#bblur1)"/><g clip-path="url(#blclip)"><g filter="url(#bblur)" style="mix-blend-mode:multiply"><rect x="138.5" y="653.3" width="15.00" height="156.70" fill="url(#bll0)"/><rect x="159.2" y="653.3" width="15.40" height="156.70" fill="url(#bll1)"/><rect x="178.8" y="653.3" width="13.80" height="156.70" fill="url(#bll2)"/><rect x="196.8" y="653.3" width="14.40" height="156.70" fill="url(#bll3)"/><rect x="215.4" y="653.3" width="15.80" height="156.70" fill="url(#bll4)"/><rect x="139.3" y="665.5" width="13.6" height="19" rx="4" fill="#000"/><rect x="139.0" y="672" width="6.5" height="25" rx="3" fill="#111"/><rect x="159.5" y="665" width="14.9" height="47" rx="4" fill="#000"/><rect x="179.0" y="666" width="13.5" height="14.5" rx="3.5" fill="#000"/><rect x="179" y="678" width="13" height="14" rx="3" fill="#444"/><rect x="197.3" y="667.3" width="13.4" height="14.4" rx="3.5" fill="#000"/><ellipse cx="166.8" cy="700.9" rx="3" ry="3.5" fill="#888"/><ellipse cx="228" cy="679" rx="3" ry="7" fill="#333"/><rect x="147.5" y="688" width="5.5" height="12" fill="#888"/><ellipse cx="183" cy="688" rx="3" ry="4" fill="#555"/><ellipse cx="181" cy="720" rx="2.5" ry="5" fill="#666"/><ellipse cx="165" cy="733" rx="4.5" ry="12" fill="#555"/><g clip-path="url(#blmclip)" mask="url(#blmm)" style="mix-blend-mode:multiply"><rect x="134.6" y="653.3" width="100.10" height="156.70" filter="url(#bmottle)" opacity="0.3"/></g></g><circle cx="152.5" cy="657.8" r="1.9" fill="#111" filter="url(#bsoft)"/><circle cx="224.2" cy="657.5" r="1.4" fill="#111" filter="url(#bsoft)"/><defs><linearGradient id="blsg" x1="0" y1="673.3" x2="0" y2="713.3" gradientUnits="userSpaceOnUse"><stop offset="0" stop-color="#000"/><stop offset="1" stop-color="#fff"/></linearGradient><mask id="blsm" maskUnits="userSpaceOnUse" x="134.6" y="653.3" width="100.10" height="156.70"><rect x="134.6" y="653.3" width="100.10" height="156.70" fill="url(#blsg)"/></mask></defs><g clip-path="url(#bllclip)"><g mask="url(#blsm)" style="mix-blend-mode:multiply"><rect x="134.6" y="653.3" width="100.10" height="156.70" filter="url(#bstreak)" opacity="0.05"/></g></g><rect x="134.6" y="653.3" width="100.10" height="156.70" filter="url(#bnoise)" opacity="0.03" style="mix-blend-mode:multiply"/></g><defs><linearGradient id="brbg" x1="0" y1="654.0" x2="0" y2="810.0" gradientUnits="userSpaceOnUse"><stop offset="0.0000" stop-color="#e2e2e2"/><stop offset="0.1026" stop-color="#eaeaea"/><stop offset="0.9936" stop-color="#f0f0f0"/></linearGradient><linearGradient id="brl0" x1="0" y1="654.0" x2="0" y2="810.0" gradientUnits="userSpaceOnUse"><stop offset="0.0000" stop-color="#f0f0f0"/><stop offset="0.0192" stop-color="#b4b4b4"/><stop offset="0.0641" stop-color="#787878"/><stop offset="0.1795" stop-color="#6e6e6e"/><stop offset="0.2564" stop-color="#6e6e6e"/><stop offset="0.3205" stop-color="#a0a0a0"/><stop offset="0.4551" stop-color="#b9b9b9"/><stop offset="0.6795" stop-color="#c3c3c3"/><stop offset="0.9936" stop-color="#cdcdcd"/></linearGradient><linearGradient id="brl1" x1="0" y1="654.0" x2="0" y2="810.0" gradientUnits="userSpaceOnUse"><stop offset="0.0000" stop-color="#f0f0f0"/><stop offset="0.0385" stop-color="#b9b9b9"/><stop offset="0.0833" stop-color="#5a5a5a"/><stop offset="0.2756" stop-color="#505050"/><stop offset="0.3462" stop-color="#5a5a5a"/><stop offset="0.4295" stop-color="#737373"/><stop offset="0.4872" stop-color="#a0a0a0"/><stop offset="0.6795" stop-color="#b4b4b4"/><stop offset="0.9936" stop-color="#bebebe"/></linearGradient><linearGradient id="brl2" x1="0" y1="654.0" x2="0" y2="810.0" gradientUnits="userSpaceOnUse"><stop offset="0.0000" stop-color="#f0f0f0"/><stop offset="0.0385" stop-color="#b9b9b9"/><stop offset="0.0833" stop-color="#5a5a5a"/><stop offset="0.3846" stop-color="#505050"/><stop offset="0.4359" stop-color="#6e6e6e"/><stop offset="0.5513" stop-color="#9b9b9b"/><stop offset="0.9936" stop-color="#bebebe"/></linearGradient><linearGradient id="brl3" x1="0" y1="654.0" x2="0" y2="810.0" gradientUnits="userSpaceOnUse"><stop offset="0.0000" stop-color="#f0f0f0"/><stop offset="0.0513" stop-color="#bebebe"/><stop offset="0.0897" stop-color="#787878"/><stop offset="0.2244" stop-color="#787878"/><stop offset="0.2949" stop-color="#a5a5a5"/><stop offset="0.3718" stop-color="#8c8c8c"/><stop offset="0.4551" stop-color="#c3c3c3"/><stop offset="0.9936" stop-color="#e1e1e1"/></linearGradient><linearGradient id="brl4" x1="0" y1="654.0" x2="0" y2="810.0" gradientUnits="userSpaceOnUse"><stop offset="0.0000" stop-color="#f5f5f5"/><stop offset="0.0705" stop-color="#dadada"/><stop offset="0.2949" stop-color="#dedede"/><stop offset="0.9936" stop-color="#e8e8e8"/></linearGradient><clipPath id="brmclip"><rect x="359.5" y="668" width="14.50" height="102.00"/><rect x="379.0" y="668" width="14.50" height="102.00"/><rect x="397.5" y="668" width="15.50" height="102.00"/><rect x="415.4" y="668" width="13.60" height="102.00"/><rect x="432.7" y="668" width="16.20" height="102.00"/></clipPath><linearGradient id="brmg" x1="0" y1="668" x2="0" y2="770" gradientUnits="userSpaceOnUse"><stop offset="0" stop-color="#fff"/><stop offset="0.55" stop-color="#fff"/><stop offset="1" stop-color="#000"/></linearGradient><mask id="brmm" maskUnits="userSpaceOnUse" x="352.3" y="654.0" width="104.60" height="156.00"><rect x="352.3" y="668" width="104.60" height="102.00" fill="url(#brmg)"/></mask><clipPath id="brclip"><rect x="352.3" y="654.0" width="104.60" height="156.00"/></clipPath><clipPath id="brlclip"><rect x="358.5" y="654.0" width="16.50" height="156.00"/><rect x="378.0" y="654.0" width="16.50" height="156.00"/><rect x="396.5" y="654.0" width="17.50" height="156.00"/><rect x="414.4" y="654.0" width="15.60" height="156.00"/><rect x="431.7" y="654.0" width="18.20" height="156.00"/></clipPath></defs><rect x="352.3" y="654.0" width="104.60" height="156.00" fill="url(#brbg)" filter="url(#bblur1)"/><g clip-path="url(#brclip)"><g filter="url(#bblur)" style="mix-blend-mode:multiply"><rect x="359.5" y="654.0" width="14.50" height="156.00" fill="url(#brl0)"/><rect x="379.0" y="654.0" width="14.50" height="156.00" fill="url(#brl1)"/><rect x="397.5" y="654.0" width="15.50" height="156.00" fill="url(#brl2)"/><rect x="415.4" y="654.0" width="13.60" height="156.00" fill="url(#brl3)"/><rect x="432.7" y="654.0" width="16.20" height="156.00" fill="url(#brl4)"/><path d="M364.5,657 C367,660 373,664 373.5,671 L373.5,686 C371,690 366,691 362,693 C359.5,688 359.5,678 361,670 Z" fill="#262626"/><ellipse cx="363" cy="676" rx="3" ry="4" fill="#000"/><ellipse cx="369" cy="674" rx="3" ry="3" fill="#111"/><rect x="379.4" y="666.5" width="14" height="31" rx="4.5" fill="#000"/><rect x="397.9" y="666" width="14.8" height="48.5" rx="4.5" fill="#000"/><rect x="415.8" y="668" width="13" height="21" rx="4" fill="#000"/><rect x="404.4" y="714" width="2.2" height="96" fill="#333"/><ellipse cx="361" cy="690" rx="2.5" ry="4" fill="#222"/><rect x="365" y="700" width="3" height="110" fill="#bbb"/><ellipse cx="386" cy="712" rx="5" ry="8" fill="#444"/><ellipse cx="422" cy="712" rx="5" ry="3" fill="#888"/><g clip-path="url(#brmclip)" mask="url(#brmm)" style="mix-blend-mode:multiply"><rect x="352.3" y="654.0" width="104.60" height="156.00" filter="url(#bmottle)" opacity="0.3"/></g></g><line x1="411" y1="695" x2="452" y2="656" stroke="#444" stroke-width="1.2" filter="url(#bsoft)"/><defs><linearGradient id="brsg" x1="0" y1="674.0" x2="0" y2="714.0" gradientUnits="userSpaceOnUse"><stop offset="0" stop-color="#000"/><stop offset="1" stop-color="#fff"/></linearGradient><mask id="brsm" maskUnits="userSpaceOnUse" x="352.3" y="654.0" width="104.60" height="156.00"><rect x="352.3" y="654.0" width="104.60" height="156.00" fill="url(#brsg)"/></mask></defs><g clip-path="url(#brlclip)"><g mask="url(#brsm)" style="mix-blend-mode:multiply"><rect x="352.3" y="654.0" width="104.60" height="156.00" filter="url(#bstreak)" opacity="0.15"/></g></g><rect x="352.3" y="654.0" width="104.60" height="156.00" filter="url(#bnoise)" opacity="0.05" style="mix-blend-mode:multiply"/></g>
<text x="85.80" y="647.20" font-size="8.6" textLength="49.4" lengthAdjust="spacingAndGlyphs">bendamustine</text>
<text x="135.30" y="625.80" font-size="8.3" textLength="21.8" lengthAdjust="spacingAndGlyphs">L cells</text>
<line x1="138.00" y1="632.00" x2="153.70" y2="632.00" stroke="#333" stroke-width="1.3"/>
<text x="167.70" y="625.80" font-size="8.3" textLength="28.52" lengthAdjust="spacingAndGlyphs">CD40L</text>
<text x="197.17" y="621.60" font-size="5.15" text-anchor="middle" font-weight="bold">+</text>
<text x="201.91" y="625.80" font-size="8.3" textLength="23.29" lengthAdjust="spacingAndGlyphs">L cells</text>
<line x1="161.30" y1="632.00" x2="232.60" y2="632.00" stroke="#333" stroke-width="1.3"/>
<text x="147.00" y="646.90" font-size="8.3" text-anchor="middle">0</text>
<text x="167.00" y="646.90" font-size="8.3" text-anchor="middle">0</text>
<text x="185.40" y="646.90" font-size="8.3" text-anchor="middle">15</text>
<text x="204.50" y="646.90" font-size="8.3" text-anchor="middle">45</text>
<text x="224.10" y="646.90" font-size="8.3" text-anchor="middle">75</text>
<text x="241.00" y="646.90" font-size="8.3" textLength="9.5" lengthAdjust="spacingAndGlyphs">µM</text>
<line x1="99.30" y1="655.90" x2="99.30" y2="811.00" stroke="#222" stroke-width="1.2"/>
<text transform="translate(92.4 733.5) rotate(-90)" font-size="10.6" text-anchor="middle" textLength="94" lengthAdjust="spacingAndGlyphs">Pull down: M1-tube</text>
<text x="107.60" y="694.40" font-size="8.0" textLength="18.4" lengthAdjust="spacingAndGlyphs">(kDa)</text>
<text x="122.50" y="722.20" font-size="8.2" text-anchor="end">250</text>
<line x1="126.40" y1="719.20" x2="134.30" y2="719.20" stroke="#222" stroke-width="1.3"/>
<text x="122.50" y="741.90" font-size="8.2" text-anchor="end">150</text>
<line x1="126.40" y1="738.90" x2="134.30" y2="738.90" stroke="#222" stroke-width="1.3"/>
<text x="122.50" y="765.60" font-size="8.2" text-anchor="end">100</text>
<line x1="126.40" y1="762.60" x2="134.30" y2="762.60" stroke="#222" stroke-width="1.3"/>
<text x="122.50" y="786.40" font-size="8.2" text-anchor="end">75</text>
<line x1="126.40" y1="783.40" x2="134.30" y2="783.40" stroke="#222" stroke-width="1.3"/>
<text x="244.10" y="688.90" font-size="10.4" textLength="21.2" lengthAdjust="spacingAndGlyphs">WB:</text>
<text x="244.10" y="708.50" font-size="10.4" textLength="32.3" lengthAdjust="spacingAndGlyphs">M1-Ub</text>
<text x="302.00" y="647.20" font-size="8.6" textLength="50.5" lengthAdjust="spacingAndGlyphs">bendamustine</text>
<text x="354.80" y="625.80" font-size="8.3" textLength="22.5" lengthAdjust="spacingAndGlyphs">L cells</text>
<line x1="357.50" y1="632.00" x2="373.50" y2="632.00" stroke="#333" stroke-width="1.3"/>
<text x="387.00" y="625.80" font-size="8.3" textLength="30.5" lengthAdjust="spacingAndGlyphs">CD40L</text>
<text x="418.52" y="621.60" font-size="5.15" text-anchor="middle" font-weight="bold">+</text>
<text x="423.59" y="625.80" font-size="8.3" textLength="24.91" lengthAdjust="spacingAndGlyphs">L cells</text>
<line x1="380.50" y1="632.00" x2="452.00" y2="632.00" stroke="#333" stroke-width="1.3"/>
<text x="365.40" y="646.90" font-size="8.3" text-anchor="middle">0</text>
<text x="387.00" y="646.90" font-size="8.3" text-anchor="middle">0</text>
<text x="403.70" y="646.90" font-size="8.3" text-anchor="middle">15</text>
<text x="421.70" y="646.90" font-size="8.3" text-anchor="middle">45</text>
<text x="442.50" y="646.90" font-size="8.3" text-anchor="middle">75</text>
<text x="460.50" y="646.90" font-size="8.3" textLength="9.5" lengthAdjust="spacingAndGlyphs">µM</text>
<line x1="316.70" y1="656.90" x2="316.70" y2="811.00" stroke="#222" stroke-width="1.2"/>
<text transform="translate(310.6 734.0) rotate(-90)" font-size="10.6" text-anchor="middle" textLength="93" lengthAdjust="spacingAndGlyphs">Pull down: M1-tube</text>
<text x="324.60" y="695.00" font-size="8.0" textLength="18.8" lengthAdjust="spacingAndGlyphs">(kDa)</text>
<text x="340.00" y="720.60" font-size="8.2" text-anchor="end">250</text>
<line x1="344.00" y1="717.60" x2="351.30" y2="717.60" stroke="#222" stroke-width="1.3"/>
<text x="340.00" y="741.90" font-size="8.2" text-anchor="end">150</text>
<line x1="344.00" y1="738.90" x2="351.30" y2="738.90" stroke="#222" stroke-width="1.3"/>
<text x="340.00" y="767.20" font-size="8.2" text-anchor="end">100</text>
<line x1="344.00" y1="764.20" x2="351.30" y2="764.20" stroke="#222" stroke-width="1.3"/>
<text x="340.00" y="790.70" font-size="8.2" text-anchor="end">75</text>
<line x1="344.00" y1="787.70" x2="351.30" y2="787.70" stroke="#222" stroke-width="1.3"/>
<text x="461.50" y="689.60" font-size="10.4" textLength="22" lengthAdjust="spacingAndGlyphs">WB:</text>
<text x="461.50" y="709.20" font-size="10.4" textLength="32.3" lengthAdjust="spacingAndGlyphs">M1-Ub</text>
<text x="174.80" y="824.00" font-size="11" textLength="24.2" lengthAdjust="spacingAndGlyphs" style="stroke-width:0.4px">FL18</text>
<text x="389.00" y="824.00" font-size="11" textLength="30.8" lengthAdjust="spacingAndGlyphs" style="stroke-width:0.4px">FL318</text>
<rect x="0.5" y="0.5" width="519" height="835" fill="none" stroke="#222" stroke-width="1"/>
</svg>
</body></html>
